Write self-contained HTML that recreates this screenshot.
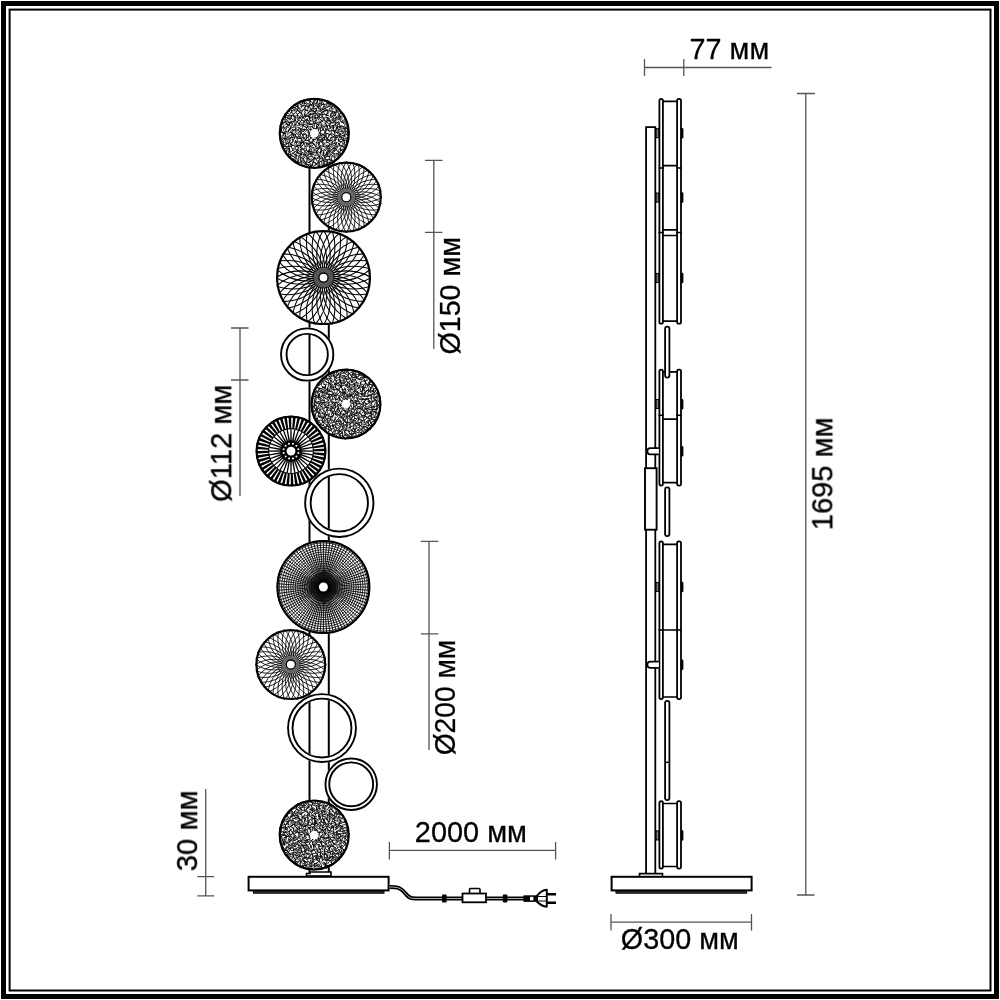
<!DOCTYPE html>
<html><head><meta charset="utf-8"><title>Floor lamp drawing</title>
<style>html,body{margin:0;padding:0;background:#fff;width:1000px;height:1000px;overflow:hidden}svg{display:block}text{font-family:"Liberation Sans",sans-serif}</style>
</head><body><svg width="1000" height="1000" viewBox="0 0 1000 1000"><defs><clipPath id="c1"><circle cx="314.3" cy="133.3" r="35.6"/></clipPath><clipPath id="c2"><circle cx="346.3" cy="197.2" r="35.6"/></clipPath><clipPath id="c3"><circle cx="323.5" cy="277.6" r="47.5"/></clipPath><clipPath id="c4"><circle cx="346" cy="404" r="35.5"/></clipPath><clipPath id="c5"><circle cx="291" cy="451.1" r="35.5"/></clipPath><clipPath id="c6"><circle cx="323.4" cy="587" r="47"/></clipPath><clipPath id="c7"><circle cx="290.8" cy="664.6" r="35.5"/></clipPath><clipPath id="c8"><circle cx="314.2" cy="835" r="35.6"/></clipPath><radialGradient id="rg"><stop offset="0.28" stop-color="#000"/><stop offset="0.7" stop-color="#111" stop-opacity="0.85"/><stop offset="1" stop-color="#000" stop-opacity="0"/></radialGradient></defs><rect width="1000" height="1000" fill="#fff"/><rect x="3.5" y="3.5" width="993" height="993" fill="none" stroke="#000" stroke-width="5"/><rect x="9.6" y="9.6" width="980.9" height="980.9" fill="none" stroke="#000" stroke-width="2"/><path d="M309.5 166V874M328.8 166V874" stroke="#000" stroke-width="2" fill="none"/><g clip-path="url(#c1)"><circle cx="314.3" cy="133.3" r="35.6" fill="#fff"/><path d="M276.87 135.69l4.11 1.46M277.82 124.29l4.09 2.52M277.87 125.1l3.47 2.66M278.48 128.08l2.45 3.51M280.94 130.28l-3.01 2.78M281.59 131.29l-4.34 2.05M278.53 135.12l3.29 1.07M280.5 135.53l0.09 4.19M278.53 137.86l3.27 1.96M279.04 141.24l3.42 0.16M280.55 140.5l-0.43 4.07M282.11 118.24l0.48 3.31M280.77 120.35l2.96 3.37M283.64 121.99l-2.99 0.99M282.7 124.43l-2.7 1.32M283.75 126.21l-2.86 3.75M281.68 126.51l-0.25 4.56M281.13 128.91l0.87 4M280.33 131.06l3.48 2.64M284.27 132.37l-2.09 4.36M283.7 137.07l-4.03 2.24M283.64 138.31l-2.24 2.38M282.23 140.46l1.86 2.48M283.05 143.13l-2.95 0.91M281.42 143.88l1.72 3.83M284.57 145.86l-3.89 2.62M282.67 147.48l0.07 3.24M284.59 114.71l1.16 3.14M284.3 116.18l1.5 3.54M285.53 118.96l-4.31 1.18M286.67 121.72l-3 0.71M286.44 122.05l-4.52 1.49M283.74 124.25l0.16 3.48M282.58 126.54l3.57 3.2M284.01 127.53l-0.38 3.28M285.78 130.91l-3.77 2.38M282.21 131.71l2.99 2.23M284.41 132.86l-0.88 2.92M285.47 134.63l-0.93 4M282.35 138.58l3.56 0.09M284.85 138.89l-2.26 3.41M283.9 141.83l-0.87 4.4M285.67 143.79l-3.01 2M281.97 146.39l4 0.12M284.24 148.11l-1.78 3.17M282.91 151.79l3.99 0.16M287.32 113.28l-3.19 0.66M284.54 113.86l3.1 2.89M284.77 116.7l3.83 1.94M287.97 118.4l-3.96 2.95M288.31 120.62l-3.37 1.11M285.85 122.25l2.1 2.32M285.08 124.12l4.2 0.74M287.96 125.23l-3.49 3.48M287.09 127.07l-1.57 3.47M287.42 130.96l-3.64 1.53M287.02 131.83l-2.71 1.88M285.68 132.62l-0.13 3.74M285.12 136.12l2.11 3.91M287.97 137.85l-4.1 1M285.34 138.8l0.7 4.89M287.7 140.85l-2.12 4.52M284.15 144.98l3.21 2.06M288.27 146.02l-3.86 2.93M284.48 148.48l4.86 0.69M287.3 148.99l-2.19 4.39M286.32 150.97l-0.19 4.36M285 153.21l2.34 3.56M286.46 109.56l3.7 2.43M285.78 112.93l3.54 0.99M285.69 114.87l3.75 1.38M288.64 115.13l0.77 4.01M286.89 117.3l2.9 2.77M286.46 120.19l3.65 2.76M288.81 122.25l-2.68 1.68M289.85 123.11l-2.24 3.07M285.67 126.14l3.49 1.45M290.91 128.6l-3.53 2.93M288.92 128.73l-0.7 3.4M288.13 131.52l-0.41 3.77M290.47 135.28l-2.9 1.63M286.67 135.86l2.1 3.32M289.03 139.88l-3.4 0.07M290.82 140.26l-3.04 3.56M289.42 142.33l-3.26 2.06M288.68 142.74l0.39 4.69M288.12 144.68l1.43 4.34M287.51 147.29l2.41 4.07M287.38 150.83l3.24 1.41M289.12 152.12l-1.42 3.51M289.49 154.93l-2.32 1.96M290.62 155.79l-3.42 2.74M291.08 106.36l-0.43 3.58M293.01 108.36l-4.31 1.44M290.35 108.57l1.36 3.77M291.04 112.01l-1.31 2.88M289.06 115.47l3.38 0.29M291.6 114.75l-1.1 4.24M287.89 117.92l3.56 2.42M292.62 121.61l-4.42 1.03M290.92 121.9l-2.25 4.26M289.17 123.46l1.2 4.01M291.33 125.27l-1.5 4.74M291.97 127.28l-2.52 2.65M289.82 130.43l2.6 3.16M291.9 132.14l-2.97 1.02M292.42 133.48l-3.54 2.92M292.6 135.43l-3.17 3.35M288.31 137.49l2.73 1.77M290.04 138.69l-0.93 3.48M289.62 142.05l1.94 3.63M292.74 144.32l-3.09 0.44M291.93 146.48l-4.06 0.04M288.95 148.1l1.36 3.36M289.54 148.35l-0.35 4.72M291.13 153.46l-3.48 1.28M290.61 153.39l-0.48 3.91M288.28 156.5l3.49 0.37M290.49 158.03l1.39 3.3M291.44 106.86l3.17 0.63M291.84 108.12l2.7 1.72M292.09 110l-0.25 3.3M291.71 112.47l2.3 1.98M292.83 114.79l-1.66 2.57M291.84 114.67l-0.87 3.7M290.75 117.78l2.51 2.27M294.42 120.68l-3.82 2.51M290.09 121.49l2.97 2.8M292.29 123.03l-0.4 3.36M293.74 127.34l-4.38 1.23M293.15 129l-2.17 2.42M293.41 130.31l-1.99 3.67M291.35 133.52l2.67 1.48M292.46 132.97l-0.78 3.95M294.09 137.63l-4.46 0.01M292.31 137.64l-0.01 3.22M293.23 140.54l-1.87 2.57M292.97 142.66l-3.29 0.73M291.44 145.36l3.3 0.39M290.7 145.37l1.68 3.3M291.44 147.52l1.82 3.05M293.39 149.65l-2.69 2.76M293.18 152.02l-1.68 2.97M290.37 154.81l3.86 2.09M289.35 156.99l4.36 2.36M293.77 159.51l-3.79 1.16M293.02 103.15l3.27 2.78M292.41 107.66l3.18 0.14M295.21 106.92l-0.23 4.96M295.39 109.89l-4.11 0.96M295.09 112.53l-2.09 2.45M293.85 113.73l-0.32 3.29M294.79 115.09l-0.94 4.57M294.56 118.52l0.35 3.44M295.91 120.43l-4.38 1.31M293.53 121.62l1.99 2.65M296.14 124.34l-2.74 1.79M292.65 125.33l3.06 2.8M295.19 129.4l-3.01 0.81M292.36 129.7l3.6 1.76M292.95 132.67l2.54 2.87M293.35 134.04l0.94 3.13M293.49 134.76l1.25 3.84M295.32 137.18l-2.41 2.94M292.54 140.12l2.21 2.27M296.12 140.4l-2.06 4.18M292.82 144.98l2.61 1.81M296.89 146.46l-3.77 2.4M295.98 148.3l-2.95 2.86M296.8 149.96l-3.2 3.52M295.24 150.96l-2.53 3.15M293.18 153.64l3.23 1.94M291.51 155.3l3.86 2.58M294.94 157.51l-3.15 2.67M293.17 160.66l4.1 2.1M295.8 161.84l-3.19 1.37M297.65 103.24l-2.97 2.03M294.94 104.51l2.72 2.63M298.76 105.69l-4.29 1.69M295.75 107.88l2.6 3.86M298.21 108.8l-2.58 4.17M295.28 112.53l3.38 2.74M298.11 115.21l-4 1.54M295.48 117.68l3.26 0.54M295.11 116.24l0.66 4.87M298.81 120.83l-3.41 1.56M296.83 122.15l-1.67 3.32M293.9 124.19l3.05 0.96M295.65 125.7l0.72 4.72M295.35 127.62l0.33 3.24M297.28 131.37l-2.78 1.43M297.8 132.43l-2.72 2.78M294.84 133.49l1.12 3.52M295.05 135.45l3.36 2.8M295.86 136.69l1.91 3.92M294.71 139.73l2.46 2.97M297.94 140.53l-1.98 4.14M295.91 144.36l2.47 3.3M294.9 145.68l3.06 1.47M295.51 149.19l2.86 1.05M297.37 149.6l-0.33 3.29M297.02 151.56l-2.35 3.97M296.58 154.05l-1.97 3.9M296.94 155.92l-1.68 2.83M297.06 157.77l-2.02 3.17M294.31 159.03l2.75 3.64M297.6 160.73l-0.83 3.31M297.1 100.89l2.92 2.1M300.55 101.33l-3.08 2.95M298.2 103.5l-0.66 4M297.38 105.15l1.16 3.78M298.36 107.13l-1.57 3.77M297.52 109.53l2.48 3.31M300.37 112.21l-3.14 2.32M297.35 114.02l0.5 3.94M300.9 116.6l-3.27 2.58M299.45 118.72l-2.05 2.97M297.05 119.38l3.53 2M296.77 121.64l2.39 2.06M300.99 124l-3.62 1.54M296.76 126.49l2.32 2.05M299.43 128.68l-2.36 2.27M297.23 129.09l2.89 2.78M299.87 130.42l-1.24 3.9M296.55 133.37l2.58 2.14M299.81 136.61l-3.22 0.46M300.35 138.23l-3.18 0.19M299.66 141.55l-4.69 0.83M300.43 141.84l-3.32 3.52M300.19 144.92l-3.81 0.82M298.87 145.44l-0.11 3.9M297.59 148.44l1.19 3.01M296.31 151.12l2.55 2.14M296.81 153.06l2.89 0.95M296.08 155.07l3.6 1.93M299.33 156.52l-1.44 2.63M298.71 158.48l-2.49 3.51M298.95 159.3l-1.31 3.88M299.53 161.92l-3.79 2.03M300.46 101.12l0.69 4.04M298.9 103.52l3.53 2.42M298.14 106.91l2.62 2.26M299.22 108.42l2.06 3.35M298.98 110.23l1.16 2.8M299.44 111.64l2.23 2.83M301.56 115.04l-2.69 1.77M302.06 116.74l-3.07 1.34M298.59 116.95l3.4 2.83M301.46 120.53l-2.68 3.02M300.02 122.29l-1.01 3.36M297.95 123.07l3.16 3.69M297.86 127.35l3.9 1.23M299.48 127.94l2.11 3.75M302.01 129.93l-3.78 2.44M300.95 131.61l-0.63 4.6M301.83 133.23l-3.56 2.3M298.41 136.77l4.14 0.23M302.09 138.52l-3.51 0M301.47 139.86l-1.16 3.25M302.83 142.46l-3.3 2.79M300.1 142.55l1.49 4.4M299.84 145.03l0.95 3.55M301.89 147.94l-2.56 3.86M301.35 150.31l-0.18 3.42M297.26 152.2l4.15 1.71M301.53 154.14l-3.15 2.11M300.98 154.86l-0.71 4.87M300.53 158.38l0.59 3.26M301.61 161.8l-4.07 0.91M300.7 160.16l0.96 4.63M304.11 98.63l-1.99 4.5M302.97 100.42l-0.53 3.81M303.77 106l-3.18 0.47M301.97 104.88l-0.89 3.61M305.08 108.4l-4.07 2.57M304.15 108.89l-2.51 3.47M301.31 111.98l0.82 3.04M301.9 113.34l0.55 4.26M302.8 115.66l0.98 2.99M302.47 118.02l-1.9 3.69M301.26 119.91l3.53 1.76M301.45 122.4l0.86 2.88M300.69 124.66l2.98 1.07M302.99 125.14l-0.58 3.42M299.85 129.08l4.85 0.48M304.18 130.92l-3.61 1.18M300.95 132.41l2.75 3.4M301.55 133.43l2.14 3.69M304.27 137.55l-4.87 0.57M300.03 137.86l2.97 3.7M301.99 140.28l-0.95 3.36M303.67 142.09l-3.85 1.34M303.72 143.1l-1.48 2.93M300.28 145.06l2.56 4.2M299.82 149.54l3.71 0.28M300.31 151.29l3.46 1.9M300.9 152.66l0.94 2.87M304.06 154.01l-4.61 0.63M304.11 156.42l-3.25 1.28M300.52 157.6l2.84 1.45M301.49 160.51l2.37 1.88M300.54 162.21l2.19 2.2M299.14 164.9l4.8 1.29M301.89 100.14l3.61 0.29M304.95 100.3l-0.72 3.5M303.32 100.18l1.03 4.49M302.27 105.21l3.89 0.66M306.49 105.59l-2.7 2.5M305.26 106.47l-0.3 4.31M305.94 109.78l-1.84 2.71M305.54 111.75l-1.61 4.62M304.31 113.41l1.42 4.38M305.28 116.69l-3.56 1.19M303.61 117.66l2.55 3.71M304.35 120.05l-1.44 3.41M304.82 120.99l-1.69 4.1M302.64 124.31l2.07 2.84M303.35 125.98l3.61 1.69M305.09 128.9l-3.53 1.52M306.35 128.88l-3.41 3.04M304.66 132.65l-2.33 2.18M305.34 133.81l-2.63 1.49M305.84 136.56l-3.46 3.21M302.82 137.53l3.26 2.79M304.02 139.88l0.07 4.48M302.73 141l1.85 3.5M303.72 144.16l1.92 2.41M306.99 147.83l-3.57 0.61M302.83 148.2l3.2 3.09M303.36 149.3l2.25 3.5M304.81 152.27l-1 2.85M303.31 155.33l2.97 1.02M305.35 156.42l-2.49 3M303.17 157.75l1.43 3.96M302.13 159.68l3.53 2.55M302.26 162.78l3.4 0.03M305.28 165.09l-2.69 2.05M303.18 164.74l2.58 3.55M308.06 97.96l-3.42 2.02M304.61 99.35l1.74 3.15M306.99 102.7l-3.29 1.35M304.83 103.12l3.87 2.94M304.97 105.43l3.47 2.21M305.12 109.12l3.11 1.8M304.95 109.71l2.69 1.52M308.05 113.29l-2.98 1.87M308.72 115.19l-4.89 0.79M305.41 116.34l3.76 0.19M307.69 118.48l-3.04 2.25M307.49 119.07l-1.21 3.3M305.29 122.74l3.96 0.55M303.69 124.19l3.61 1.41M304.47 126.3l2.85 2.83M303.54 129.38l4.85 0.54M307.93 129.7l-2.7 1.94M304.25 132.82l3.2 2.69M303.77 134.26l3.15 1.27M306.73 134.4l-0.22 4.57M304.76 138.05l2.62 3M309.41 140.37l-5 0.07M304.93 142.42l4.3 1.03M306.15 143.65l1.41 3.06M307.36 145.96l-3.27 1.04M306.08 148.39l1.43 3.48M306.94 149.91l-2.59 1.77M307.2 151.61l-2.3 3.76M303.51 153.86l3.77 2.67M307.01 155.66l0.05 3.52M305.53 158.42l3.06 2.13M307.49 159.52l-2.25 4.17M306.67 163.05l-2.16 2.35M304.13 163.77l4.5 1.33M304.91 166.67l3.88 1.41M309.47 96.82l-1.26 4.39M306.31 100.18l4.83 1.22M306.89 103.34l4.28 1.13M309.07 104.18l-0.57 3.5M307.32 105.77l1.81 2.5M308.67 106.91l-1.21 2.79M311 110.88l-3.78 2.36M308.75 111.76l0.3 3.51M309.43 114.18l-0.99 3.04M308.69 116.75l1.06 2.81M306.35 119.2l2.99 1.65M305.43 119.69l4.37 2.23M306.48 123.09l4.13 2M306.66 123.65l1.54 4.1M309.07 125.87l-2.85 1.44M307.35 127.43l2.68 2.19M308.95 129.63l-1.45 3.46M308.59 130.93l0.43 3.47M308.91 133.55l-1.05 4.24M309.27 136.42l-3.19 2.06M308.67 137.94l0.67 4.16M307.52 140.25l3.01 2.63M305.74 143.74l4.34 0.15M306.98 143.76l3.28 1.59M308.74 145.06l0.82 3.23M310.1 148.14l-2.06 3.55M308.37 149.94l-0.07 4.23M311.37 153.82l-4.68 0.37M305.81 154.52l3.4 1.73M307.18 157.07l2.39 2.01M306.25 157.62l3.55 2.43M305.74 161.98l4.04 0.4M305.56 162.47l3.49 3.53M307.37 164.56l3.83 0.49M306.27 165.27l2.71 3.42M310.91 97.95l-0.95 4.66M309.63 99.49l0.48 3.4M309.65 102.67l1.62 2.89M313.05 103.74l-4.2 2.21M308.8 105.76l2.51 4.03M311.65 108.86l-3.16 1.91M311.67 110.09l-3.14 2.14M310.84 112.64l-1.02 2.99M310.92 113.84l-1.73 3.4M308.63 117.12l2.69 1.47M310.52 116.68l-1.45 4.03M310.81 119.82l-1.65 3.66M307.56 122.68l4.18 1.99M311.99 124.14l-3.27 0.5M313.09 126.5l-4.41 0.51M310.63 127.38l0.85 4.8M311.19 129.34l-1.63 4.12M309.52 131.81l0.54 3.85M308.87 134.1l2.14 2.11M309.02 135.37l2.37 3.26M311.38 137.3l-2.77 3.54M312.6 141.2l-2.85 1.7M312.24 143.63l-3.62 0.3M311.6 144.76l-2.02 2.71M309 145.61l2.77 2.54M310.88 148.4l-2.43 3.68M307.33 151.35l4.82 0.54M310.38 151.28l-1.36 3.46M310.24 152.61l1.18 4.05M312.49 156.08l-4.48 1.32M307.89 158.13l3.31 2.21M312.37 160.3l-3.52 1.63M307.93 162.35l3.2 1.07M313.33 164.9l-4.27 1.99M309.86 164.52l1.74 4.12M310.63 98.26l4.12 1.54M314.1 99.81l-1.76 4.12M311.39 101.63l2.39 2.87M309.86 105.3l3.87 0.95M311.58 107.75l3.24 0.73M312.42 108.1l-0.86 3.74M311.02 109.22l3.65 2.65M314.89 113.64l-4.14 0.33M314.05 114.25l-4.1 0.27M313.02 114.93l-1.28 3.2M311.81 116.37l1.02 4.18M310.4 120.62l4.01 0.86M313.74 123.86l-4.12 0.45M313.55 122.23l-1.02 4.17M311.56 126.29l2.71 3.17M309.89 129.69l4.2 0.51M309.52 129.59l4.09 1.6M311.23 131.27l3.82 2.93M310.66 133.91l3.71 2.46M314.24 135.12l-3.5 3.48M314.06 138.67l-1.76 2.77M313.46 138.62l-0.93 4.82M309.32 141.73l4.68 1.67M314.43 143.8l-2.46 2M310.26 145.33l2.65 3.03M312.09 148.55l-1.37 3.03M312.15 150.4l-0.54 3.25M313.51 152.12l-2.89 1.69M313.22 154.15l-3.06 0.68M311.92 155.49l1.71 3.47M310.58 158.68l3.4 1.23M313.18 161.13l-3.59 0.15M313.11 161.88l-1.02 4.56M312.42 163.65l-2.15 3.42M310.5 165.66l2.17 2.33M313.4 97.35l2.4 3.53M314.78 99.21l-0.15 4.31M316.53 103.31l-2.96 1.04M313.26 102.28l0.19 4.82M313.02 104.2l0.66 4.61M315.08 107.74l-2.31 3.76M316.57 111.11l-4.36 0.74M316.36 112.87l-3.65 0.2M315.96 113.05l-2.15 4.26M311.92 116.47l4.22 1.31M315.98 117.09l-3.24 2.54M317.1 119.97l-4.33 2M313.49 123.02l3.12 0.62M314.61 122.71l-0.4 4.82M312.23 127.45l3.76 1.54M316.86 127.62l-3.28 2.39M313.21 129.08l1.18 4.49M314.22 131.75l-0.89 3.6M315.24 133.31l-2.17 3.04M313.69 135.32l1.53 2.87M312.54 139.24l3.57 0.48M312.41 139.55l2.45 2.44M312.17 142.67l3.02 2.43M314.2 144.16l1.34 2.78M312.1 146.88l2.98 1.54M312.89 148.46l3.22 3.13M313.94 150.03l0.15 3.03M316.16 152.6l-3.43 0.38M312.02 153.36l3.83 2.88M314.45 156.54l-0.97 2.88M315.08 157.32l-1.72 4.48M312.68 160.76l3.59 2.71M312.39 162.47l3.47 0.5M316.61 163.62l-3.57 3.06M311.94 167.17l2.98 1.49M318.79 97.91l-3.95 2.22M317.99 99.08l-1.45 3.56M317.8 101.36l-2.23 3.85M317.71 104.46l-4.04 2.27M318.01 105.04l-1.52 4.03M315.3 107.92l1.67 3.24M316.59 108.37l-1.65 4.34M314.48 112.91l2.92 1.28M318.18 113.81l-3.59 2.08M318.52 116.64l-4.22 2.51M315.55 116.37l0.69 4.06M316.81 119.68l-1.92 3.4M315.41 121.65l2.28 3.05M316.88 124.15l-0.31 4.04M316.57 125.07l0.32 4.16M317.67 126.89l-2.82 3.86M316.68 130.34l0.03 3.28M316.77 131.1l-1.01 3.66M317.22 135.71l-3.44 0.85M315.36 136.83l2.82 1.83M317.73 137.6l-3.18 2.45M317.88 138.65l-1.33 4M318.81 142.79l-3.33 0.21M316.42 143.77l-1.15 4.07M316.7 145.44l0.52 3.62M318.32 147.35l-4.16 2.61M316.21 149.43l0.82 4.09M316.73 151.27l0.14 3.14M319.25 154.74l-4.29 0.34M313.7 158.06l4.24 0.35M313.8 157.03l3.12 2.88M315.64 159.31l2.22 2.37M317.18 162.89l-1.65 2.65M315.19 163.9l4.17 1.97M318.44 166.58l-3.98 1.93M314.18 168.1l2.7 1.45M320.18 98.87l-3.19 1.37M317.6 99.28l-0.59 4.73M319.44 102.64l-1.21 2.86M316.09 105.98l4.71 0.32M318.38 106.21l0.21 3.06M317.38 107.05l3.33 2.52M316.08 110.68l3.73 0.53M316.97 112.39l3.85 2.07M319.23 113.45l0.09 4.52M317.49 115.09l0.81 3.38M317 117.32l2.12 3.22M321.07 122.07l-4.33 0.28M315.33 122.73l4.02 2.8M318.97 122.99l-0.49 3.08M317.54 125.84l0.69 3.66M319.02 126.99l-0.69 4.09M318.53 130.35l1.18 3.67M317.2 132.14l2.33 3.54M317.95 133.47l1.99 4.45M318.42 135.8l-2.2 2.53M318.25 136.18l-0.67 4.94M318.49 139.54l0.87 2.97M316.42 142.5l3.44 0.72M318.72 142.69l0.32 3.86M319.61 146.06l-1.28 3.81M318.4 146.84l-0.94 4.04M317.59 151.15l2.71 2.09M316.95 151.25l1.23 3.06M317.15 154.79l2.77 2.55M319.69 155.7l-2.86 2.19M320.38 158.49l-2.81 2.72M319.56 160.55l-2.52 2.72M319.05 162.31l-2.89 1.55M319.62 162.84l-1.16 4.04M319.96 165.49l-2.42 1.82M318.18 98.07l2.31 2M318.92 98.28l1.37 4.19M318.27 103.76l3.93 0.14M319.99 102.15l-0.05 4.32M319.14 105.03l1.43 3.78M321.46 107.82l-1.9 3.5M319.57 109.54l2.03 3.57M321.5 112.74l-1.18 2.79M321.49 114.41l-4.19 1.05M318.56 116.15l3.06 2.12M318.26 117.48l3.43 3.52M322.17 120.67l-3.02 3.03M319.62 121.11l2.1 3.68M319.52 123.93l2.23 2.68M321.71 125.85l-1.9 3.79M319.77 126.57l0.74 4.18M320.49 129.63l0.12 4.09M318.88 132.46l2.86 2.65M320.09 133.28l1.31 4.13M320.3 136.66l-1.97 2.36M318.14 139.24l4.83 0.38M318.87 140.88l4.52 0.05M320.64 140.81l-2.22 4.34M318.21 144.38l4.27 2.3M320.66 145.51l-1.93 3.94M319.62 146.97l1.22 2.9M320.89 149.79l-0.18 3.9M321.06 150.99l-0.75 3M320.39 154.31l-1.46 3.4M319.81 155.88l0.15 3.64M317.8 157.74l4.59 1.19M318.49 160.75l3.83 1.19M320.65 161.12l-2.49 3.12M318.48 164.6l3.76 2.97M319.15 166.41l3.93 0.49M323.52 96.75l-2.3 4.15M324.23 99.91l-4.02 1.13M321.95 100.78l-0.45 4.89M323.59 103.5l-2.47 2.27M323.44 105.94l-0.92 3.53M323.49 108.64l-2.82 1.87M321.01 109.66l2.03 3.16M321.6 112.13l1.26 3.24M321.69 114.13l0.92 4.31M322.09 115.05l-0.17 3.08M323.57 118.5l-1.48 3.27M320.27 118.95l3.03 3.26M320.01 121.71l2.66 2.49M321.7 124.66l2.34 2.22M321.32 125.09l0.35 3.33M322.53 126.9l0.65 3.93M323.34 129.44l-2.95 1.84M320.96 133.51l3.24 1.24M320.23 135.57l4.73 0.43M320.32 137.74l4.91 0.3M324.58 137.03l-3.78 2.68M323.16 139.1l-1.91 3.5M320.33 140.56l3.33 3.71M322.31 144.24l1.38 2.71M320.2 147l2.39 1.98M321.59 147.89l-0.43 4.46M323.51 150.01l-3.89 2.69M323.15 152.2l-0.06 3.97M321.43 154.52l2.53 1.63M320.34 155.77l3 2.56M321.45 156.88l2.24 3.03M321.92 158.69l2.23 3.42M321.49 161.42l0.87 4.23M320.43 164.71l4.52 1.41M324.61 164.66l-3.31 3.61M327.13 100.02l-4.47 0.77M322.09 101.39l2.98 3.89M323 103.71l2.56 4.06M323.57 105.55l1.03 3.37M321.65 109.03l3.39 1.32M326.05 111l-3.63 0.75M322.81 110.69l2.09 3.99M321.75 114.26l4.16 0.24M322.79 116.53l1.45 3.32M323.12 117.61l2.12 3.48M323.45 120.44l3.19 1.26M326.92 122.6l-3.27 1.91M326.99 125.97l-4.39 0.35M325.01 125.63l-1.69 3.43M322.54 129.12l3.09 2.28M326.27 130.61l-2.52 3.25M324.88 130.85l0.46 3.92M322.05 134.13l3.31 1.25M324.86 134.8l-0.58 4.11M323.36 139.29l3.06 1.05M325.11 139.4l-3.48 2.51M323.15 141.57l2.38 3.79M322.16 142.56l2.41 3.84M322.04 146.07l3.21 0.84M323.95 149.16l2.42 2.04M324.14 149.12l-0.77 4.48M323.92 151.42l0.08 3.92M323.55 154.61l2.38 3.36M323.8 155.53l1.57 4.07M325.55 159.48l-4.36 1.53M326.08 160.96l-3.06 0.07M324.18 161.55l0.42 3.9M323.45 162.46l0.34 3.79M328.88 100.96l-4.12 0.22M328.38 103.07l-3.86 1.52M327.58 103.29l-1.95 4.2M327.63 107.08l-4.33 2.35M324.87 108.65l3.25 2.98M323.52 110.19l3.59 0.47M327.56 111.97l-1.77 4.02M328.37 114.89l-3.13 1.55M327.75 117.86l-4.01 0.09M328.24 117.27l-2.42 4M327.61 119.71l-0.79 2.93M324.7 121.81l2.08 3.44M325.5 124.46l2.01 2.24M327.37 125.61l-0.59 4.7M325.72 127.65l-0.5 3.06M326.47 129.19l-1.54 4M324.78 133.01l3.86 0.68M326.48 133.71l-1.43 4.23M325.91 134.95l1.22 4.08M327.26 138.33l-0.43 3.02M328.01 139.57l-2.34 3.16M328.51 142.06l-2.83 1.06M327.33 144.6l-2.32 3.06M327.03 145.2l-0.13 4.25M324.58 148.98l4.81 0.1M327.64 149.94l-1.55 3.87M326.83 152.21l-1.75 4.11M326.71 153.25l-0.87 2.94M327.81 155.94l-4.12 2.53M325.04 158.56l3.14 1.94M327.23 161.03l-3.76 0.31M326.7 161.26l0.96 3.86M324.79 163.92l4.14 1.63M330.44 100.75l-4.49 1.89M328.37 102.46l0.79 3.49M330.64 106.04l-3.43 0.08M330.34 105.99l-3.23 1.51M326.2 108.96l2.51 2.66M327.16 109.36l0.89 3.11M329.23 112.52l-3.26 2.07M325.49 114.49l4.15 1.66M326.89 117.08l2.84 1.67M326.57 116.97l3.37 3.58M327.65 119.2l2.61 3.54M326.41 121.67l2.48 2.61M330.2 124.88l-4.53 1.29M326.5 125.35l1.64 3.93M326.21 129.57l3.31 1.2M327.84 129.08l1.72 3.26M326.44 133.3l4.06 1.44M330.15 134.64l-2.73 3.2M329.17 136.54l-3.34 3.36M326.17 137.94l2.44 3.08M327.98 138.62l2.02 3.71M327.27 142.29l2.75 1.24M329.72 143.94l-3 3.92M327.38 145.6l2.98 2.45M326.61 147.59l4.18 1.47M328.8 149.91l-1.01 4.75M327.46 151.66l0.04 3.56M326.06 154.71l4.13 2.79M326.61 156.26l3.25 0.58M330.33 159.35l-4.09 0.56M327.75 159.74l-0.59 3.28M330.43 162.34l-4.58 1.22M327.48 102.97l3.76 1.99M332.97 103.94l-3.53 0.97M331.06 105.35l0.19 3.71M329.45 108.08l0.8 3.91M327.78 109.94l4.54 1.48M331.75 112.34l-1.1 3.21M330.82 113.13l-0.33 3.72M333.09 115.68l-3.73 2.56M327.84 118.36l3.28 3.62M331.84 119.92l-4.39 1.19M332.98 122.86l-4.22 0.53M330.88 122.75l-1.61 4.19M329.08 124.46l1.5 3.97M330.87 128.15l-2.88 1.12M329.37 129.96l2.38 2.39M332.42 131.38l-2.54 2.47M332.12 134.02l-4.12 1.3M332.18 136.19l-2.1 2.53M331.02 137.48l-1.55 3.05M328.12 140.37l3.13 0.55M332.7 141.41l-2.93 3.57M331.47 144.16l-3.7 3.11M328.16 145.25l4.08 2.33M328.89 147.75l1.05 4.27M332.49 150.78l-4.65 0.44M330.32 151.39l-1.67 2.83M330.04 153.66l1.18 3.02M329.04 154.52l0.72 4.41M328.64 158.88l3.63 2.74M330.51 160.98l-2.17 2.44M328.95 162.54l3.55 0.93M331.4 102.09l2.59 3.6M330.92 104l3.32 1.51M333.36 105.14l-3.24 3.35M331.74 106.77l0.58 3.58M331.6 110.59l1.3 3.14M334.9 111.9l-3.51 2.08M334.17 113.3l-2.05 3.93M331.59 115.31l2.61 3.06M331.44 117.24l2.68 3.14M331.84 118.88l1.96 4.03M330 121.62l4.2 1.59M334.37 125.12l-4.36 1.37M334.22 126.25l-4.61 1.55M332.88 127.09l-1.48 3.45M330.65 130.26l4.91 0.68M331.32 133.11l2.95 1.99M330.95 134.89l3.59 2.32M334.82 136.89l-4.09 1.34M333.02 139.55l-2.95 0.98M330.58 139.4l2.16 2.79M332.56 141.79l-0.98 3.82M331.1 144.08l3.26 1.6M331.59 145.93l2.62 2.35M333.69 148.49l-3.26 1.66M334.53 148.79l-2.84 4.1M330.56 152.16l3.71 2.25M330.47 153.56l2.64 2.51M332.37 155.25l-1.28 4.75M329.2 159.77l4.56 0.81M331.59 159.38l1.38 4.59M331.34 161.68l1.66 3.05M335.76 103.62l-3.67 0.92M332.31 105.11l3.1 0.95M331.66 106.26l3.8 1.21M335.12 106.87l-2.25 2.95M331.93 110.92l4.12 1.39M334.23 111.86l0.95 3.19M335.58 114.78l-2.58 1.58M337.01 117.28l-4.05 1.82M335.85 117.52l-1.29 3.32M332.67 119.81l2.68 3.13M335.12 120.53l0.09 4.3M335.3 125.04l-3.27 0.72M332.64 125.49l2.39 3.02M333.27 126.63l0.62 4.92M333.09 131.1l3.44 0.08M334.71 130.64l-0.44 4.67M333.66 134.14l2.59 3.41M335.13 135.16l-2.79 2.78M335.97 136.68l-2.11 3.78M336.55 139.62l-4.1 1.91M336.44 142.6l-3.45 1.09M333.88 142.89l2.77 3.5M333.78 146.83l1.62 2.54M336.68 148.04l-4.4 0.61M334.93 148.75l-1.48 3.86M331.75 152.67l4.01 1.45M334.34 154.24l-0.3 3.09M332.69 155.68l2.79 1.68M334.71 157.02l-0.01 4.54M334.56 160.62l-0.18 3.16M338.74 105.37l-4.72 0.05M336.68 105.7l-1 4.62M334.95 108.45l3.34 3.31M336.44 109.55l0.18 3.37M335.71 111.71l-0.28 3.43M336.35 113.67l-1.5 3.11M336.4 116.06l1.55 3.58M336.31 116.99l-0.3 3.17M337.3 119.45l-3.45 2.31M338.82 121.52l-3.71 2.73M335.97 122.55l-0.82 4.16M336.59 125.19l0.71 4.06M336.43 127.25l0.25 3.25M336.11 128.86l-1.47 4.11M338.61 131.64l-3.69 1.6M334.95 135.25l3.21 0.45M337.93 137.37l-3.4 0.25M337.22 137.2l-2.16 2.53M336.09 138.54l-1.52 4.21M336.71 142.02l-1.46 3.07M336.18 142.82l1.38 4.22M333.48 145.65l4.13 1.36M334.87 146.85l1.52 3.38M337.38 148.72l-3.63 3.26M335.82 153.15l2.91 0.75M336.39 153.56l-0.57 3.74M338.59 156.98l-2.59 1.69M338.51 157.73l-3.43 2.04M336.26 105.96l3.44 2M339.54 108.44l-4 2.82M339.61 110.57l-2.61 1.55M337.67 111.88l2.12 3.54M339.28 113.1l-0.8 4.74M336.97 115.53l3.61 2.07M340 117.33l-1.8 3.03M339.36 122.13l-3.65 0.06M337.2 122.39l2.07 2.31M337.37 124.15l0.08 3.71M340.4 126.18l-3.99 1.4M336.42 127.08l3.16 3.38M338.91 128.52l-1.89 4.45M336.88 133.6l4.1 0.96M340.55 135.14l-4.17 1.55M338.89 134.56l0.61 3.77M338.21 137.99l0.53 4.25M337.86 139.46l2.17 2.46M337.76 142.62l2.42 2.73M338.42 143.09l1.74 3.65M339.7 144.89l-3.28 3.53M340.37 148.57l-2.71 2.16M336.38 150.37l3.17 2.65M338.77 150.98l0.02 4.05M337.4 153.88l1.37 2.73M338.08 155.39l-0.41 3.37M339.43 159.28l-4.23 0.99M341.38 108.76l-3.65 0.08M340.2 109.99l0.27 3.49M339.86 111.06l1.23 3.5M339.04 114.32l2.14 3.38M339.85 115.12l0.2 3.97M338.08 117.37l2.9 3.91M340.06 119.3l1.81 3.55M340.07 121.58l-1.03 3.18M338.34 123.48l2.39 3.54M338.21 126.76l3.29 0.23M341.13 128.63l-3.2 1.91M341.46 131.28l-3.93 1.56M339.01 133.05l2.87 1.32M340.23 133.38l-0.27 3.94M338.73 136.93l3.78 0.67M342.31 137.58l-2.18 2.26M338.91 139.54l2.02 2.81M341.57 141.71l-3.49 2.89M338.68 143.66l2.33 2.01M341.75 144.84l-1.44 3.81M340.73 147.77l-0.23 3.49M341.51 149.91l-3.26 3.33M339.11 152.16l3.8 2.83M339.16 153.57l2.24 3.98M338.7 155.21l3.18 2.65M340.36 112.01l2.29 2.51M343.83 113.47l-2.47 2.89M342.81 115.59l-2.78 2.82M342.72 117.6l-2.18 2.46M342.6 119.73l0.45 3.15M341.55 121.46l3.08 3.07M340.45 125.67l2.97 0.93M339.1 127.49l4.61 0.86M341.22 128.63l2.68 2.98M340.4 129.93l3.98 2.8M341.66 130.68l0.85 3.39M344.94 134.95l-4.53 1.46M340.91 136.66l3.6 2.57M339.84 139.08l3.5 0.48M344.08 140.21l-3.2 1.46M341.62 141.18l1.62 3.23M343.7 142.81l-1.56 3.9M341.41 146.11l3.6 0.99M344.19 149.02l-3.04 0.5M343.31 150.14l-2.99 0.67M339.97 152.89l4.06 2.24M341.95 152.62l-0.55 3.78M343.24 113.85l3.03 3.63M343.42 115.21l2.74 3.17M346.08 116.78l-1.85 3.62M343.28 119.66l2.68 3.03M342.01 121.52l3.57 1.98M345.52 124.33l-2.2 3.32M341.29 125.84l4.18 1.71M342.83 128.37l4.76 0.47M344.18 129.03l1.31 4.27M343.26 131.88l1.88 4.59M342.09 135.66l3.93 0.5M344.67 134.41l-1.22 4.28M346.99 137.53l-4.23 2.47M342.47 139.79l2.51 3.38M344.69 140.57l-0.12 4.12M346.26 144.17l-2.94 2.08M342.76 147.63l3.57 0.36M344.16 147.87l1.71 2.9M346.59 149.17l-4.19 2.32M345.96 151.25l-3.65 2.47M345.2 116.97l1.6 3.27M345.22 121.34l4.14 1.57M348.06 121.9l-2.33 2.08M345.51 123.08l3.53 2.44M346.94 126.53l-3.14 2.2M346.18 127.64l-0.66 3.6M344.81 130.69l3.84 2.59M344.87 132.5l3.15 2.96M345.17 134.19l4.11 1.37M348.39 137.64l-3.26 0.88M347.59 139.68l-4.31 1.14M347.78 138.76l-1.47 3.46M346.18 141.65l1.25 2.82M347.71 143.86l-3.03 3.18M348.72 123.96l-2.82 2.35M345.21 127.36l4.23 1.75M347.97 127.64l-0.22 3.97M347.8 129l-0.62 3.15M346.75 131.32l3.01 2.74M347.64 132.95l0.37 2.98M348.99 136.22l0.22 3.48M347.76 137.13l-0.66 3.63M345.89 140.14l3.71 1.49M348.51 142.14l-2.38 3.47M350.84 130.31l-2.97 2.47" stroke="#000" stroke-width="0.85" fill="none"/><circle cx="314.3" cy="133.3" r="4.3" fill="#fff"/></g><circle cx="314.3" cy="133.3" r="34.5" fill="none" stroke="#000" stroke-width="2.2"/><g clip-path="url(#c2)"><circle cx="346.3" cy="197.2" r="35.6" fill="#fff"/><g stroke="#000" stroke-width="0.85" fill="none"><circle cx="380.3" cy="197.2" r="34.83"/><circle cx="379.78" cy="203.1" r="34.83"/><circle cx="378.25" cy="208.83" r="34.83"/><circle cx="375.74" cy="214.2" r="34.83"/><circle cx="372.35" cy="219.05" r="34.83"/><circle cx="368.15" cy="223.25" r="34.83"/><circle cx="363.3" cy="226.64" r="34.83"/><circle cx="357.93" cy="229.15" r="34.83"/><circle cx="352.2" cy="230.68" r="34.83"/><circle cx="346.3" cy="231.2" r="34.83"/><circle cx="340.4" cy="230.68" r="34.83"/><circle cx="334.67" cy="229.15" r="34.83"/><circle cx="329.3" cy="226.64" r="34.83"/><circle cx="324.45" cy="223.25" r="34.83"/><circle cx="320.25" cy="219.05" r="34.83"/><circle cx="316.86" cy="214.2" r="34.83"/><circle cx="314.35" cy="208.83" r="34.83"/><circle cx="312.82" cy="203.1" r="34.83"/><circle cx="312.3" cy="197.2" r="34.83"/><circle cx="312.82" cy="191.3" r="34.83"/><circle cx="314.35" cy="185.57" r="34.83"/><circle cx="316.86" cy="180.2" r="34.83"/><circle cx="320.25" cy="175.35" r="34.83"/><circle cx="324.45" cy="171.15" r="34.83"/><circle cx="329.3" cy="167.76" r="34.83"/><circle cx="334.67" cy="165.25" r="34.83"/><circle cx="340.4" cy="163.72" r="34.83"/><circle cx="346.3" cy="163.2" r="34.83"/><circle cx="352.2" cy="163.72" r="34.83"/><circle cx="357.93" cy="165.25" r="34.83"/><circle cx="363.3" cy="167.76" r="34.83"/><circle cx="368.15" cy="171.15" r="34.83"/><circle cx="372.35" cy="175.35" r="34.83"/><circle cx="375.74" cy="180.2" r="34.83"/><circle cx="378.25" cy="185.57" r="34.83"/><circle cx="379.78" cy="191.3" r="34.83"/></g><circle cx="346.3" cy="197.2" r="7" fill="none" stroke="#666" stroke-width="4"/><circle cx="346.3" cy="197.2" r="4.5" fill="#fff" stroke="#000" stroke-width="1.1"/></g><circle cx="346.3" cy="197.2" r="34.5" fill="none" stroke="#000" stroke-width="2.2"/><g clip-path="url(#c3)"><circle cx="323.5" cy="277.6" r="47.5" fill="#fff"/><g stroke="#000" stroke-width="1.05" fill="none"><circle cx="370" cy="277.6" r="47"/><circle cx="369.29" cy="285.67" r="47"/><circle cx="367.2" cy="293.5" r="47"/><circle cx="363.77" cy="300.85" r="47"/><circle cx="359.12" cy="307.49" r="47"/><circle cx="353.39" cy="313.22" r="47"/><circle cx="346.75" cy="317.87" r="47"/><circle cx="339.4" cy="321.3" r="47"/><circle cx="331.57" cy="323.39" r="47"/><circle cx="323.5" cy="324.1" r="47"/><circle cx="315.43" cy="323.39" r="47"/><circle cx="307.6" cy="321.3" r="47"/><circle cx="300.25" cy="317.87" r="47"/><circle cx="293.61" cy="313.22" r="47"/><circle cx="287.88" cy="307.49" r="47"/><circle cx="283.23" cy="300.85" r="47"/><circle cx="279.8" cy="293.5" r="47"/><circle cx="277.71" cy="285.67" r="47"/><circle cx="277" cy="277.6" r="47"/><circle cx="277.71" cy="269.53" r="47"/><circle cx="279.8" cy="261.7" r="47"/><circle cx="283.23" cy="254.35" r="47"/><circle cx="287.88" cy="247.71" r="47"/><circle cx="293.61" cy="241.98" r="47"/><circle cx="300.25" cy="237.33" r="47"/><circle cx="307.6" cy="233.9" r="47"/><circle cx="315.43" cy="231.81" r="47"/><circle cx="323.5" cy="231.1" r="47"/><circle cx="331.57" cy="231.81" r="47"/><circle cx="339.4" cy="233.9" r="47"/><circle cx="346.75" cy="237.33" r="47"/><circle cx="353.39" cy="241.98" r="47"/><circle cx="359.12" cy="247.71" r="47"/><circle cx="363.77" cy="254.35" r="47"/><circle cx="367.2" cy="261.7" r="47"/><circle cx="369.29" cy="269.53" r="47"/></g><circle cx="323.5" cy="277.6" r="7.5" fill="none" stroke="#555" stroke-width="5"/><circle cx="323.5" cy="277.6" r="4.5" fill="#fff" stroke="#000" stroke-width="1.1"/></g><circle cx="323.5" cy="277.6" r="46.4" fill="none" stroke="#000" stroke-width="2.2"/><circle cx="307.2" cy="354.5" r="23.4" fill="none" stroke="#fff" stroke-width="7.4"/><circle cx="307.2" cy="354.5" r="26.15" fill="none" stroke="#000" stroke-width="1.9"/><circle cx="307.2" cy="354.5" r="20.65" fill="none" stroke="#000" stroke-width="1.9"/><g clip-path="url(#c4)"><circle cx="346" cy="404" r="35.5" fill="#fff"/><path d="M311 401.56l-0.76 3.23M310.82 406.24l0 3.92M311.09 392.5l2.67 2.05M309.27 395.95l4.25 2.59M313.61 398.93l-3.58 0.41M313.11 400.01l-1.92 3.74M312.39 401.77l-1.83 2.8M310.99 405.35l3.08 3.28M310.35 406.32l2.83 3.21M312.28 409.51l-1.88 2.76M309.97 409.46l3.08 3.34M311.5 411.54l1.13 3.38M314.41 386.38l0.87 3.29M315.77 389.06l-3.76 0.84M313.5 390.55l2.74 3.39M312.63 393.12l3.4 3.16M316.75 395.52l-4.08 1.68M314.82 396.35l-3.28 1.49M315.02 397.65l-0.76 4.69M315.23 400.9l-1.37 3.93M313.49 402.33l1.7 3.96M313.67 405.19l0.52 3.26M313.09 405.61l2.53 4.04M316.74 410.05l-3.65 0.59M315.72 411.04l-4.04 1.43M312.61 413.78l3.79 2.43M311.53 414.43l3.72 2.54M312.26 416.97l2.92 1.18M317.94 382.91l-2.12 4.06M315.7 384.09l1.2 4.17M317.11 387.51l-3.02 2.51M315.11 388.71l2.72 3.05M313.95 390.73l4.09 1.73M314.16 392.6l2.93 3.79M317.01 394.56l-0.49 3.95M315.24 395.33l0.56 4.04M316.43 399.1l-1.44 3.24M314.77 400.76l3.76 3.26M316.62 402.77l-2.17 3.91M314 405.21l3 0.37M316.82 406.13l-1.55 4.22M316.68 407.65l0.1 4.44M318.89 411.41l-4.39 2M316.76 412.21l-2.3 3.63M314.94 413.88l0.73 3.12M314.44 418.84l3.14 0.22M316.86 418.09l-2.76 3.35M317.38 419.7l-1.26 3.1M317.09 382.21l1.69 2.65M320.19 384.7l-4.32 1.68M315.97 387.29l4.31 0.86M319.91 388.57l-2.68 3.18M319.29 391.93l-4.05 0.2M317.61 391.91l0.91 4.23M319.32 393.59l-1.18 4.37M319.07 395.68l-0.6 3.16M317.34 397.37l3.31 3.59M319.64 401.54l-4.73 0.75M316.11 402.86l4.5 1.08M318.26 404.83l0.59 2.96M317.13 406.43l0.58 4.88M318.96 408.16l-3.04 2.8M316.88 411.12l2.22 3.19M319.08 411.83l-0.71 4.79M317.43 415.33l2.72 2.42M318.95 416.25l-3.02 2.17M317.67 417.88l-0.85 3.8M314.96 420.8l4.65 1.81M317.98 421.14l-1.87 3.78M319.14 378.97l1.05 2.85M321.09 380.22l-3.84 3.13M317.72 383.04l2.95 1.25M320.66 383.89l-2.77 2.47M321.86 388.41l-3.6 0.09M318.18 389.65l4.03 0.65M318.39 390.95l4.19 2.06M320.39 392.71l-2.12 2.8M319.18 393.9l0.72 3.86M317.45 396.72l4.17 1.84M319.94 398.05l1.7 3.27M321.02 400.41l-1.3 3.67M318.84 400.94l0.67 4.6M320.16 404.9l1.08 2.81M319.89 407.09l0.29 3.6M317.72 408.03l3.14 2.72M319.55 410.45l0.63 3.78M318.4 411.77l2.31 3.14M321.31 414.93l-2.2 2.83M319.12 415.37l2.98 3.48M322.97 419.75l-4.63 0.8M318.09 419.71l2.19 3.56M321.62 424.56l-3.99 0.65M317.71 425.7l3.44 1.9M319.23 425.84l1.5 3.76M324.51 378.31l-4.71 0.54M320.58 380.55l3.28 0.6M322.85 380.96l-1.72 3.73M321.35 381.87l-0.19 3M321.07 385.69l3.31 2.08M322.75 386.45l-0.88 3.26M323.85 389.23l-3.77 2.42M320.74 391.1l4.19 2.39M322.86 391.06l-1.08 4.64M323.11 395.33l-2.81 1.73M320.66 395.98l3.36 2.14M320.51 397.93l3.61 3.17M320.25 402.43l3.06 0.03M320.46 404.03l3.46 0.15M320.98 404.09l2.05 2.72M320.82 406.06l3.17 2.44M323.26 407.86l-3.49 2.32M321.12 411.1l2.59 3.65M321.38 413.24l2.85 0.96M323.13 416.11l-4.08 0.28M323.99 417.48l-3.48 0.1M322.76 417.66l-0.38 4.62M323.78 422.18l-3.67 1.63M318.83 424.15l4.67 1.27M323.69 425.24l-4.32 2.06M321.1 426.89l0.21 3.1M323.11 374.35l0.79 4.69M321.94 377.45l4.91 0.25M323.85 378.74l1.47 2.83M322.5 379.7l1.63 3.27M323.34 382.96l2.27 2.74M326.31 385.49l-2.68 2.06M322.31 387.13l3.6 0.75M326.47 389.95l-3.09 1.83M324.39 389.42l-0.44 3.81M324.56 392.57l-0.93 2.98M325.33 395.32l-4.12 1.18M323.43 396.72l0.91 4.2M321.62 400.73l3.28 0.09M326.09 402.18l-4.75 0.63M325.1 402.84l-3.37 0.41M323.75 403.76l1.69 3.62M325.27 406.57l-2.03 4.17M322.32 409.4l2.26 2.01M324.54 410.93l-2.78 2.54M326.08 412.4l-2.44 2.22M325.24 413.23l-1.7 4.46M324.68 414.93l-1.75 4.48M325.42 417.89l-1.86 3.76M321.64 420.85l3.02 2.63M324.56 422.86l-1.64 2.6M323.83 425.34l1.13 3.29M326.2 427.11l-4.89 0.81M324.92 428.14l-0.31 3.61M324.48 430.02l-0.08 4.04M326.95 376.57l-3.32 0.7M325.87 376.11l-0.28 3.22M327.85 378.79l-3.08 1.7M324.85 381.25l2.76 1.31M327.03 384.09l-3.59 0.54M325.83 385.06l-0.81 3.44M323.55 388.39l4.1 0.95M327.98 388.51l-3.4 2.53M325.7 390.27l0.87 4.41M324.8 393l3.73 1.16M325.39 394.63l-0.52 3.21M323.7 397.25l2.72 1.37M325.09 398.09l3.03 2.23M324.01 401.27l2.94 2M324.66 403.47l3.11 2.17M324.79 404.36l1.76 3.56M324.99 406.92l3.38 0.98M327.31 407.03l-1.12 4.59M324.87 410.98l0.73 2.95M324.63 412.59l2.26 4M326.5 415.12l-2.55 3.51M324.88 416.46l1.47 2.94M327.65 419.51l-3.81 1.65M323.22 421.8l4.44 0.5M324.8 423.57l3.74 2.61M328.92 426.22l-4.15 0.88M326.86 425.93l-2.21 4.35M326.41 427.79l-1 3.64M326.72 430.85l-3.34 0.52M329.67 372.46l-3.58 3.02M327.44 373.17l2.57 4.27M329.83 377.98l-3.57 0.67M327.25 378.43l2.02 4.52M325.73 381.55l3.92 2.18M327.99 381.96l1.51 3.43M328.07 384.12l0.96 3.46M327.19 386.64l1.14 4.68M328.04 387.93l-0.97 4.71M330.24 390.85l-4.16 2.41M325.99 394.02l4.16 0.19M329 394.31l-0.7 3.27M326.15 396.76l4.21 1.27M327.05 396.94l1.89 4.48M328.97 400.25l-3.06 1.94M327.85 401.71l0.71 4.81M329.48 404.94l-4.25 2.4M328.97 406.96l-2.7 4.06M328.02 408.78l-1.79 2.48M326.53 410.11l1.39 3.72M329.55 414.63l-4.28 0.45M326.17 414.21l2.89 1.84M329.52 417.99l-3.85 0.94M327.76 419l-0.05 3.32M327.95 419.77l-0 3.55M328.83 422.13l-2.33 3.47M326.24 424.64l2.93 2.14M328.86 426.22l-0.56 3.95M327.27 428.83l3.29 0.81M329.24 430.94l-4 2.86M326.53 433.03l3.86 1.64M329.02 371.35l3.54 2.36M329.47 372.73l2.54 3.96M332.08 375.94l-3.56 0.59M332.15 376.13l-3.05 3.11M328.69 379.22l3 2.08M331.5 380.15l-1.67 2.99M328.94 382.96l2.44 2.73M330.35 383.57l0.62 4.35M330.84 385.94l-1.47 4.42M327.61 390.21l3.51 1.49M327.24 390.44l3.74 1.33M332.47 394.39l-4.02 0.34M329.18 393.44l0.67 4.87M331.11 395.65l-2.44 3.69M329.62 398.65l1.51 3.06M330.75 401.74l-3.11 1.37M327.99 402.84l2.68 2.14M329.11 404.89l3.46 3.53M328.42 407.66l3.09 1.32M327.27 410.18l4.02 0.09M329.87 409.45l1.64 3.76M329.28 412.88l-0.44 4.04M332.62 416.02l-3.99 0.8M330.81 416.69l-0.42 3.65M327.85 417.35l3.41 3.54M329.88 420.14l-1.51 4.49M331.33 422.25l-2.51 2.85M329.33 424.03l0.65 4.25M330.22 425.68l0.56 3.41M327.71 429.13l3.89 1.81M329.2 429.14l-0.37 3.84M329.42 433.64l2.95 0.68M334.7 372.63l-4.23 1.33M330.5 374.94l4.64 0.41M329.69 377.89l2.93 1.42M330.09 379.15l2.23 3.3M333.83 380.9l-3.3 3.2M330.18 383.64l3.14 1.28M332.11 385.07l0.36 3.02M331.11 385.5l0.53 3.42M330.5 388.82l4.34 0.62M330.8 389.65l2.11 4.48M333.56 393.86l-2.48 1.75M330.43 393.99l1.37 2.68M332.24 395.98l0.37 3.49M330.56 398.59l2.58 4.09M331.22 401.26l1.33 2.97M333.54 401.38l-2.17 4.09M333.28 405.36l-3.15 2.06M330.74 406.07l2.95 2.5M331.4 407.94l0.92 3.84M330.55 409.24l2.47 3.59M333.21 411.03l-2.02 4.13M334.12 414.44l-3.93 2.95M333.44 415.37l-2.53 3.36M331.26 418.82l3.22 3.02M330.04 419.06l2.88 4.04M331.42 422.67l2.15 3.73M333.7 425.46l-3.58 0.3M334.15 428.44l-3.41 0.83M331.13 428.16l0.4 3.5M333.78 430.54l-1.76 2.92M332.93 432.33l-0.51 3.11M334.13 434.73l-3.57 2.41M333.51 368.56l-0.64 4.9M334.88 372.08l-1.15 3.28M333.18 373.57l1.56 4.2M333.28 376.17l3.41 2.06M334.2 377.79l0.57 3.18M333.01 380.79l2.1 3.81M336.09 383.09l-2.52 2.17M336.18 386.05l-2.56 1.59M333.27 385.81l0.54 4.48M332.5 389.43l2.48 1.81M332.36 391.37l2.03 3.18M332.88 393.93l3.02 0.38M331.84 395.23l4.33 0.37M333.16 395.98l2.9 3.02M336.28 398.89l-4.77 0.37M335.83 402.37l-4.16 0.84M334.82 402.4l-1.29 4.33M333.77 404.08l2.11 3.47M333.43 405.88l-0.84 3.13M333.96 407.27l1.17 4.52M334.33 410.02l-1.92 3.69M332.45 412.97l3.15 1.54M333.76 413.66l-1.17 3.86M335.24 416.48l-0.54 3.57M331.89 419.08l2.81 3.34M335.09 419.78l-2.13 3.14M336.04 424.06l-3.46 1.6M332.93 424.76l0.33 4.01M332.11 426.42l3.73 1.21M333.6 427.99l1.76 3.33M335.47 430.36l-3.06 2.39M334.94 433.48l-3.54 2.1M332.8 433.54l2.11 3.68M337.47 370.18l-3 2.08M336.66 371.99l-0.76 3.2M338.42 375.17l-3.69 1.39M333.83 375.84l2.97 3.24M335.39 379.08l1.24 2.98M335.99 380.76l1.13 3.04M335.92 382.13l-0.82 4.02M337.31 383.01l-2.37 4.13M335.4 387.1l1.46 3.16M338.68 389.46l-4.44 0.32M334.12 391.97l2.4 1.97M338.25 393.76l-2.97 1.93M337.6 394.52l-3.62 2.57M336.39 395.38l-0.75 4.63M338.55 397.76l-3.42 2.97M334.7 402.13l3.16 1.6M336.37 402.21l-1.77 3.35M335.24 403.88l0.13 4.68M337.35 406.26l-3.86 2.63M337.58 408.32l-1.93 4.56M334.18 412.99l4.06 0.02M335.05 410.72l0.93 4.85M335.53 413.54l2.32 3.54M336.46 417.23l-1.81 3.1M337.84 419.51l-3.53 2.73M337.03 420.19l-1.58 3.57M334.45 422.59l2.96 1.48M334.17 424.76l3.33 3.44M335.13 425.29l1.57 3.91M335.59 429.15l1.94 2.38M335.42 430.08l-0.55 4.54M337.62 433.46l-3.9 1.2M337.46 434.42l-2.4 2.59M338.69 435.78l-3.62 2.64M336.03 369l2.71 3.22M336.87 371.04l1.92 3.3M339.38 373.87l-2.86 1.28M338.91 373.9l-3.15 3.81M340.27 377.37l-4.75 0.92M339.38 379.49l-3.93 1.39M340.27 380.99l-3.75 2.91M339.33 382.71l-3.82 2.56M336.99 385.16l3.94 1.09M335.57 387.83l3.23 1.41M337.83 389.02l2.19 2.84M338.31 389.67l-2.3 4.09M340.33 391.82l-3.34 2.84M337.22 395.03l2.97 1.41M339.89 396.58l-3.2 3.61M340.21 398.79l-2.68 1.97M335.66 401.64l3.15 1.09M340.21 403.56l-3.22 2.14M336.92 404.78l1.77 4.06M339.01 405.37l-0.58 3.98M337.47 408.24l0.32 3.63M337.42 411.43l2.16 2.19M335.51 413.65l4.16 1.37M336.81 414.98l4.07 0.41M339.56 416.63l-2.15 3.69M340.3 419.49l-3.94 2.76M340.65 421.16l-4.77 0.4M339.25 422.25l-3.37 3.09M336.86 424.74l3.41 1.83M339.82 426.77l-3.67 2.56M336.45 430.24l4.76 1.35M339.05 430.85l-1.99 3.21M339.55 431.56l-1.21 2.91M335.86 435.23l2.8 3.25M339.63 436.2l-2.81 2.67M338.18 368.68l4.01 0.65M341.88 371.99l-3.87 1.92M340.91 372.81l-1.44 3.33M340.44 374.42l-0.59 2.99M339.43 376.01l0.59 4.81M340.79 378.7l-0.32 4.1M339.73 378.99l0.42 4.31M337.67 383.35l3.64 2.12M339.62 385.53l2.57 1.58M338.9 386.09l0.81 3.84M337.15 388.88l3.77 2.85M339.5 391.02l2.58 1.61M341.14 392l-0.96 3.42M341.77 393.5l-3.3 3.35M338.54 396.95l1.94 2.69M339.29 397.13l0.97 4.02M340.64 399.49l-2.88 3.49M339.4 403.41l2.67 2.88M337.38 404.54l4.07 1.13M341.66 407.99l-2.98 1.68M338.4 408.66l1.22 3.46M339.05 409.94l2.12 3.13M340.78 413l-1.38 3.11M339.51 416.33l2.91 0.93M339.22 417.63l2.95 0.57M338.29 418.86l3.28 2.61M340.57 420.58l-0.68 3.91M338.64 422.37l1.75 3M341.52 424.21l-1.98 4.39M340.62 427.4l-2.97 2.97M338.62 429.14l3.01 2.93M339.86 429.5l-1.36 4.41M342.21 433.47l-3.06 0.7M339.29 433.82l1.45 2.84M339.43 434.9l1.83 4.39M339.62 367.68l4.37 2.16M341.39 368.61l0.32 3.12M339.19 370.43l4.26 1.67M344.38 371.81l-3.5 2.59M344.11 375.48l-4.55 0.89M340.7 377.28l4.57 1.33M344.5 380.24l-3.84 0.98M343.96 381.73l-4.23 1.45M340.67 381.84l1.19 4.54M342.13 384.64l-1.88 3.51M340.81 385.59l1.46 3.69M342.26 388.19l1.39 4.65M342.8 389.5l0.3 4.62M342.88 392.74l-1.08 3.32M344.13 393.6l-3.55 3.2M339.97 396.27l2.58 2.26M343.51 398.92l-2.77 3.48M341.43 400.38l2.38 3.69M343.68 401.77l-3.73 3.02M340.65 405.38l4.64 0.26M340.25 405.95l1.7 2.79M343.17 407.41l-2.04 4.56M342.42 411.5l-2.54 1.63M339.56 413.74l4.44 0.49M344.16 414.54l-2.98 2.17M341.01 417.07l3.29 3.47M342.66 417.2l0.42 4.2M340.69 420.54l1.33 4.31M343.54 423.2l-3.58 1.22M340.83 425.64l2.51 1.67M342.71 424.68l-0.05 4.8M341.96 428.49l-1.12 2.94M342.43 431.13l-2.67 3.54M342.44 431.81l0.17 4.78M340.46 435.47l4.15 1.67M344.49 437.53l-3.5 2.61M341.43 437.44l1.49 3.22M343.12 369.65l3.21 1.03M345.64 368.97l-1.63 4.26M342.84 373.02l3.04 0.39M344.56 375.64l-2.5 2.03M343.95 375.24l2.01 3.81M342.08 378.18l2.57 2.79M345.23 380.97l-2.25 2.87M345.38 382.52l-4.38 1.35M345.74 385.13l-4.84 0.67M344.27 387.38l1.09 2.81M345.67 389.51l-4.25 0.26M345.31 390.21l-1.08 3.33M341.75 392.16l3.53 2.13M344.82 393.16l-1.3 3.73M342.67 397.53l4.07 1.05M342.35 398.24l3.32 2M341.64 401.39l3.03 0.84M342.34 404.56l3.44 0.1M342.93 404.72l2.38 2.07M342.84 407.03l2.03 3.88M342.65 409.94l3.42 1.06M342.77 410l3.29 2.2M346.31 413.93l-4.75 1.12M343.51 413.21l1.05 3.63M341.49 416.86l3.59 0.35M343.37 417.71l0.95 3.68M343.54 420.55l2.1 2.38M343.37 421.8l0.31 4.91M345.98 424.47l-2.59 2.92M344.73 426.88l-2.81 4.04M343.45 430.15l2.87 1.14M344.06 430.39l1 3.77M346 433.55l-2.47 2.49M342.6 435.13l1.76 3.39M342.31 437.58l3.76 2.17M346.99 368.91l-3.73 2.4M348.18 370.05l-2.42 3.23M345.31 373.75l2.99 2.13M343.88 375.88l3.71 0.83M346 376.87l-1.79 2.81M345.54 378.18l1.55 3.99M346.58 380.7l-2.96 3.79M348.48 383.95l-3.02 1.68M344.42 383.43l2.88 3.31M345.22 386.02l3.56 2.45M345.17 388.28l1.18 3.19M344.33 390.99l1.89 2.49M343.58 392.4l4.01 2.44M343.47 395.72l4.54 0.68M343.33 396.95l4.54 0.33M345.53 397.93l1.33 2.87M347.93 401.33l-3.16 1.19M345.86 401.71l1.13 4.34M347.83 405.5l-3.24 2.36M343.54 406.38l3.24 2.66M343.11 410.4l4.29 0.9M344.51 412.14l4.31 0.02M346.38 412.12l-2.5 3.08M344.95 415.86l3.66 0.28M346.46 416.1l-1.09 4.56M344.08 419.11l2.32 3.38M343.9 421.19l3.06 1.72M347.63 421.61l-2.03 3.34M343.98 424.67l3.71 1.05M346.3 425.96l-0.4 4.27M343.7 429.03l3.06 0.4M344.31 431.73l2.49 2.05M345.14 433.74l2.03 2.29M343.71 434.82l3.23 1.22M346.74 437.11l-2.08 3.02M346.8 368.75l3.8 1.46M348.95 370.15l-3.82 2.08M348.13 370.92l0.04 4.38M347.96 374.22l0.91 4.31M349.58 377.78l-4.71 0.79M349.16 379.32l-3.51 0.3M347.87 381.03l0.04 3.46M347.87 381.55l-1.32 3.71M346.49 385.1l4.12 2M350.47 387.05l-3.37 0.1M347 388.96l2.64 2.74M349.37 390.27l-2.88 2.88M346.6 394.13l3.61 0.2M351.13 395.09l-4.88 0.42M349.63 396.45l-3.61 2.73M348.59 398.47l-2.66 1.98M347.13 399.32l1.11 3.77M348.1 401.89l0.1 3.51M346.67 405.73l2.56 1.99M349.77 407.57l-3.53 2.53M349.09 408.21l-1.64 3.4M349.07 410.59l-3.08 3.76M347.65 412.53l-0.5 3.13M349.96 415.83l-4.02 0.53M346.72 416.12l1.62 3.08M346.78 416.79l0.96 4.83M346.28 421.8l3.98 1.23M347.71 421.45l-0.98 4.04M348.39 423.75l-1.77 3.57M350.02 427.61l-3.91 0.58M349.23 430.11l-4.17 0.18M347.06 429.94l2.28 2.33M346.38 433.68l3.52 2.17M347.32 434.45l1.06 3.14M347.15 436.01l0.72 3.05M347.38 368.9l3.86 1.65M352.5 371.8l-4.32 2.14M347.57 372.1l3.35 2.54M349.38 373.88l3.12 3.29M348.64 377.1l1.67 2.84M349.71 378.11l2.13 3.53M350.54 379.91l-1.98 3.35M348.31 383.05l3.02 1.75M349.84 383.24l-0.65 3.91M349.12 387.36l2.5 2.21M351.68 388.73l-3.45 0.69M350.81 390.56l-1.57 3.7M351.53 392.64l-1.51 4.54M351.42 396.14l-4.25 0.14M348.5 396.28l2.76 2.27M352.05 398.38l-2.34 3.19M351.84 400.18l-3.06 3.7M351.57 402.82l-2.28 4.26M348.6 405.14l3.12 0.92M349.96 405.3l-1.46 4.3M347.99 408.73l2.36 4.29M349.1 410.05l3.32 2.02M350.89 412.58l-1.99 4.44M349.79 414.91l-0.8 3.8M350.74 414.64l0.24 4.99M352.35 419.25l-3.08 0.48M347.12 422.45l3.84 0.91M351.66 422.14l-2.71 3.17M350.08 425.07l-0.36 3.25M350.87 424.98l-0.89 4.45M351.88 430.13l-3.37 1.64M348.95 430.38l0.66 4.08M349.57 433.19l2.53 3.32M348.07 436.27l4.54 0.74M348.95 437.89l2.46 1.85M350.06 367.88l3 3.35M352.27 369.67l0.98 4.61M353.91 373.73l-3.42 1.81M353.03 372.74l-1.36 4.68M351.92 376.04l-1.45 2.89M352.73 378.33l-1.95 4.31M354.13 379.27l-3.07 3.62M354.79 384.52l-4.47 0.68M352.12 384.67l-0.07 3.56M350.93 387.14l1.93 3.03M353.51 389.8l-4.58 0.03M351.29 392.06l3.25 1.87M354.06 393.71l-3.67 0.96M350.36 394.83l3.2 2.04M351.3 395.4l1.97 3.31M349.5 397.92l3.17 3.62M352.03 400.27l1.73 3.64M350.12 402.16l4.43 2.29M350.7 405.08l1.72 3.3M353.32 408.1l-2.83 1.42M350.17 408.66l4.23 1.1M351.53 409.81l0.24 4.53M353.35 411.49l-1.96 4.55M350.35 413.18l2.56 3.81M352.79 417.64l-3.22 1.02M354.13 420.67l-4.92 0.3M350.08 421.64l3.23 0.93M352.87 421.2l-3.01 3.84M354.57 425.37l-3.69 1.43M354.11 427.9l-3.47 1.87M353.37 428.69l-1.95 4.15M351.21 430.55l2.9 1.15M349.2 433.66l3.74 0.74M351.49 433.25l0.77 3.88M351.14 437.12l2.15 2.93M355.01 368.63l-2.8 1.75M354.96 370.06l-1.41 2.66M352.57 373.38l4.06 2.39M352.05 374.44l3.55 2.28M351.76 377.23l3.34 0.42M351.91 378.98l3.46 1.45M355.65 380.72l-3.57 0.66M351.65 382.35l3.31 1.35M354.78 383.12l-0.49 4.38M353.36 385.77l1.08 3.8M355.6 388.38l-1.5 2.8M356.09 391.33l-3.34 0.27M354.68 391.73l-2.7 3.96M355.24 393.75l-1.11 4.48M351.95 396.27l2.83 1.95M354.46 399.22l-2.88 1.89M353.22 401.44l3.39 1.92M353.08 402.55l3.81 0.93M353.15 403.21l1.46 3.84M353.43 405.02l-0.06 4.69M355.02 408.94l-0.97 3.88M352.89 411.42l1.72 2.82M355.23 414.2l-3.81 1.07M354.88 415.02l-3.48 3.28M354.71 415.15l-0.33 3.94M355.06 418.59l-3.08 1.92M354.68 420.04l-1.95 3.18M353 422.43l2.92 3.17M353.1 423.38l1.04 3.71M353.18 426.5l1.47 3.83M353.46 427.87l2.1 4.51M356.11 431.54l-3.21 0.45M356.27 433.26l-4.91 0.56M353.39 433.23l-0.66 4.66M355.8 371.04l-1.23 3.79M354.39 372.81l2.31 4.34M354.8 375.42l1.07 2.88M356.86 376.9l-3.41 0.67M354.84 378.23l1.79 3.52M357.62 382.13l-3.83 1.27M353.85 383.39l2.52 2.57M355.15 383.57l-0.17 3.77M357.82 386.03l-3.57 2.89M354.91 389.92l3.15 1.97M358.15 390.68l-2.54 3.26M354.85 392.21l1.9 3.03M358.12 394.17l-4.36 1.99M355.87 397.18l1.62 2.61M354.07 400.21l3.31 0.89M354.75 400.74l2.55 4.2M356.73 402.42l-1.2 4.83M357.65 403.53l-3.27 3.7M355.05 407.64l2.87 1.32M354.63 407.4l1.69 3.54M358.66 410.11l-3.58 3.23M357 412.19l-2.33 2.66M353.05 414.47l4.27 1.78M357.05 418.09l-2.99 0.76M357.53 418.66l-3.08 2.7M355.14 420.52l0.1 3.57M358.16 423.01l-3.1 0.03M354.76 423.79l1.37 2.9M357.31 425.06l-2.02 4.52M355.79 427.66l-0.66 3.26M356.47 431.21l-2.75 1.38M354.29 432.86l3.57 3.31M354.59 435.53l4.68 1.33M353.95 436.92l4.16 0.36M356.85 369.23l3.04 3.33M357.73 370.86l1.19 2.81M355.68 374.07l4.37 0.79M359.14 376.1l-3.27 1.32M356.2 377.61l3.29 0.8M355.93 378.14l4.29 1.78M355.66 382.25l3.65 1.22M356.88 382.9l1.02 3.81M356.95 384.84l1.96 3.97M359.88 386.02l-1.98 2.89M358.83 388.29l-3.6 1.58M355.31 390.83l3.74 3.12M358.69 392.54l-2.89 3.17M359.08 393.89l-1.33 4.52M356.52 396.29l1.38 3.58M355.35 400.77l3.87 0.33M355.54 401.07l3.26 0.5M357.31 403.7l3.23 0.58M356.26 405.36l4.22 2.42M360.46 408.43l-3.03 0.19M357.62 406.75l-1.06 4.76M360.59 411.69l-4.77 1.03M359.89 413.02l-4.73 0.66M359.04 414.56l-3.62 0.98M357.91 415.59l1.16 4.2M357.41 417.31l1.63 3.49M358.17 419.78l-2.24 4.18M356.15 423.24l3.76 1.11M357.49 423.88l2.55 3.05M359.94 426.84l-3.74 1.49M360.03 427.86l-3.35 3.4M359.19 431.86l-3.87 1.5M359.12 432.37l-0.34 4.97M358.13 434.32l1.23 3.49M359.83 372.42l-0.85 3.61M357.91 374.7l3.39 0.66M361.29 376.63l-2.04 3.51M357.69 379.11l4.76 0.97M359.93 381.53l1.52 2.87M360.86 381.72l-0.83 3.76M357.85 385.05l2.99 0.96M363.11 386.53l-4.63 1.07M359.76 387.86l1.71 4.42M359.59 390.84l2.79 1.61M357.46 392.12l4.18 1.9M357.05 395.28l4.68 1.73M358.33 397.79l2.13 2.27M358.33 398.99l3.96 0.79M358.41 400.17l1.43 3.8M357.94 402.84l3.02 1.03M358.48 406.38l3.55 0.71M356.87 408.03l4.62 0.33M358.62 408.72l4.31 1.15M360.48 410.42l-1.02 3.42M359.05 412.64l3.63 3.28M358.12 414.38l3.09 3.48M359.45 416.52l-0.53 3.09M358.51 419.01l3.63 0.37M362.18 421.69l-4.03 1.31M358.31 421.47l1.85 4.41M357.81 424.29l3.26 1.76M359.59 427.53l1.9 2.82M357.09 429.69l4.26 0.76M358.31 430.01l3.02 3.32M362.02 433.34l-3.7 2.86M362.56 371.84l-2.14 3.15M360.54 375.23l3.92 1.11M364.38 377.02l-4.25 0.94M363.74 378.64l-3.16 0.88M363.32 380.66l-3.18 2.08M363.29 384.38l-3.26 0.93M364.48 385.08l-3.46 2.52M362.6 386.31l-0.15 4.9M362.8 387.62l-0.28 4.22M362.53 389.17l-0.63 4.89M364.41 393.94l-3.94 0.8M362.67 393.17l-0.95 4.23M360.2 398.03l3.22 0.65M362.85 398.9l-2.31 3.31M364.26 401.81l-2.8 1.52M362.42 403.63l-2.26 2.05M362.16 403.38l0.21 4.27M360.53 407.67l3.36 1.57M361.15 409.82l3.57 1.42M364.17 411.33l-2.61 1.96M359.82 413.21l3.19 2.88M361.1 415.3l3.41 0.7M360.87 416.21l2.57 1.67M360.22 420.25l4.81 1.22M360.78 421.06l0.71 3.55M361.78 422.04l0.26 3.18M360.33 424.83l1.86 2.51M363.51 426.48l-2.3 3.72M362.1 427.06l0.03 4.51M362.21 430.92l-1.13 3.53M359.52 432.49l3.27 1.05M360.01 434.12l2.79 3.03M363.58 372.08l0.05 4.06M365.9 376.63l-4.17 0.47M365.2 376.76l-2.87 2.1M364.26 378.48l0.26 3.12M362.96 380.55l2.93 1.94M366.1 382.19l-2.79 3.52M363.83 384.69l-1 3.31M362.89 386.72l0.5 4.01M363.68 386.92l0.87 4.7M366.28 392.01l-2.64 1.47M365.68 393.9l-4.81 0.15M361.95 395.84l3.93 0.59M364.52 398.06l-2.52 1.72M362.38 399.16l4.96 0.56M365.62 399.41l-2.34 4.02M363.73 402.27l-0.44 3.57M365.6 405.03l-3.92 2.54M363.37 406.95l2.88 2.01M366.14 408.91l-3.28 2.32M363.2 410.88l2.76 2.18M365.04 412.65l-1.58 3.56M365.63 414.03l-1.66 4.25M362.92 415.93l1.16 4.78M364.39 419.59l-2.55 1.97M363.43 422.23l2.92 0.76M362.93 424.05l3.65 0.31M361.43 424.96l3.4 3.26M363.99 425.43l-0.57 3.16M363.6 428.7l2.45 4.2M363.49 430.62l0.01 3.35M365.15 432.84l-4.12 1.23M366.85 375.66l-1.96 2.33M363.71 376.73l2.78 1.43M367.64 380.5l-3.4 0.35M365.53 380.69l-0.37 3.97M365.04 382.84l3.75 2.33M365.99 385.03l-1.88 3.82M363.5 387.13l3.51 0.97M369.03 389.25l-4.1 2.12M367.61 390.4l-3.55 2.5M365.85 392.52l-1.68 3.85M363.31 395.83l4.21 0.26M367.75 397.78l-4.05 2.11M366.92 398.6l-2.55 2.99M363.44 401.67l3.3 2.13M364.47 402.99l2.9 1.44M365.03 404.29l0.99 3.92M367.88 408.74l-4.09 0.43M368.31 409.68l-2.8 2.57M364.58 410.59l2.66 3.79M364.02 412.51l2.86 1.55M364.15 415.2l3.88 2.2M364.25 415.8l3.4 2.6M367.54 417.65l-3.55 3M365.94 420.79l1.79 2.47M366.72 422.55l-2.56 2.57M363.1 426.55l4.93 0.75M364.28 426.07l3.74 2.17M363.96 428.49l3.17 2.69M366.29 429.5l-0.22 4.9M367.71 376.25l2.35 2.43M368.08 378.23l-2.11 2.22M369.29 381.41l-1.52 3.08M370.58 384.05l-3.31 1.54M366.01 383.36l1.98 3.34M367.34 386.48l1.68 2.53M370.09 390.17l-3.52 0.7M368.84 390.67l-1.16 3.17M367.01 393.57l2.55 2.19M370.17 395.06l-3.73 1.35M369.93 398.12l-4.15 1.14M366.95 398.89l3.8 2.53M367.3 401.34l3.31 0.5M369.4 403.1l-4.19 1.66M366.08 406.86l4.49 0.12M368.76 408.5l-3.4 0.08M366.6 408.63l0.84 2.98M368.12 410.49l-0.23 4.07M370.88 413.02l-4.88 0.22M370.07 414.33l-2.42 3.25M368.55 417.12l0.75 3.63M370.5 420.87l-3.76 0.12M369.06 420.85l-0.76 3.33M367.55 421.64l1.19 4.58M365.78 425.58l3.26 0.36M370.15 428.31l-4.43 0.93M367.7 427.26l0.21 4.06M367.04 429.13l-0.04 4.61M368.42 375.9l1.51 2.77M369.31 378.56l1.5 3.57M370.21 380.25l-1.19 4.83M368.5 382.49l3.36 3.38M368.49 384.8l1.57 2.91M371.15 387.2l-0.91 3.01M370.98 388.32l-0.62 3.27M371.51 390.52l-2.86 1.52M372.41 394.38l-4.7 1.05M371.58 394.98l-4.49 1.65M371.69 396.12l-1.72 2.85M368.25 398.79l1.62 4.28M367.93 401.84l2.81 1.39M370.71 403.96l-2.31 2.05M369.67 404.97l2.65 1.66M371.45 407.48l-4.44 0.92M368.26 409.37l4.45 0.82M370.07 410.82l1.21 3.65M368.07 412.49l2.97 1.31M369.23 415.89l3.48 1.5M372.67 417.93l-4.57 0.59M372.04 419.21l-4.59 1.74M369.91 420.16l1.8 4.41M371.92 422.21l-3.35 3.3M368.01 425.02l3.12 0.8M368.83 426.62l1.47 2.78M371.25 427.44l-1.5 3.65M373.13 379.97l-3.38 0.91M372.85 379.83l-3.01 3.2M369.14 384.17l4.62 0.85M373.79 385.75l-3.69 1.83M372.53 386.22l-2.86 3.9M373.95 390.16l-3.12 1.49M373.84 390.82l-4.06 2.33M374.46 392.03l-3.68 2.78M373.35 394.09l-3.27 2.37M372.09 395.97l-0.91 4.07M371.71 399.43l1.15 2.84M375.02 400.76l-4.17 2.06M371 402.41l1.17 2.83M374.86 406.03l-4.55 1.84M371.3 405.62l1.09 4.38M371.97 408.59l-0.42 4.78M374.99 411.45l-4.27 0.91M370.44 411.64l1.55 4.35M372.73 414.42l-3.07 1.84M370.55 415.1l1.89 4.13M371.01 419.24l3.9 0.79M374.72 420.93l-4.23 1.79M371.75 423.31l-0.78 3.01M371.42 425.05l2.61 1.49M372.42 380.71l1.73 4.49M372.4 383l4.17 0.52M376.68 385.36l-4.99 0.04M371.54 387.66l3.58 1.41M373.85 388.63l-1.23 3.13M372.41 389.83l2.53 4M374.82 391.52l-1.5 3.36M374.82 394.25l-1.86 2.89M376.64 397.45l-3.97 0.8M372.96 398.41l3.57 2.23M375.33 400.68l-4.54 0.66M375.57 402.52l-1.45 3.06M373.27 405.44l1.59 2.94M372.62 406.13l1.07 3.68M376.6 409.1l-4.77 0.84M372.34 410.76l3.45 1.94M374.25 412.47l-2.35 2.19M373.26 413.86l2.01 3.87M375.36 417.03l-2.98 0.81M374.62 418.69l-1.99 2.73M375 419.58l-0.8 4.93M374.92 421.43l-0.99 4.87M376.65 384.73l-1.53 3.82M374.2 385.89l2.51 3.18M376.65 388.69l-1.32 2.75M374.56 390.14l2.11 2.88M378.11 392.95l-4.18 1.92M378.15 396.32l-4.83 1.01M376.57 396.34l-2.72 2.37M374.9 398.57l2.36 3.1M375.76 399.65l0.62 4.01M377.11 402.73l-0.37 3.99M377.75 405.02l-4.32 2.11M376.82 406.12l-0.24 4.75M377.86 408.77l-4 1.1M375.03 410.34l1.99 3.92M374.76 412.76l2.83 1.15M375.42 413.33l0.76 3.96M373.53 416.38l3.39 3.26M374.52 419.59l3.07 0.81M375.16 422.1l-0.07 3.03M380.22 390.17l-2.82 3.27M380.14 392.03l-3.34 1.99M377.45 394.05l-0.68 3.45M378.55 395.66l-2.75 3.5M378.22 398.11l-1.78 3.89M379.22 400.11l-2.07 3.3M377.04 402.05l0.05 4.3M379.04 404.06l-1.81 2.78M379.16 406.54l-2.58 2.07M378.11 407.5l-2.09 3.21M375.43 411.68l3.46 0.83M380.02 412.48l-2.83 2.36M379.54 415.62l-3.53 1.17M376.82 417.68l3.08 1.19M381.34 394.96l-1.84 3.9M379.3 396.12l0.01 3.12M381.49 400.14l-3.05 0.85M381.41 401.29l-2.63 3.24M380.54 401.93l-0.4 3.8M377.22 404.72l3.69 3.12M379.23 406.37l2.38 2.24M379.95 407.95l-0.41 3.73M381.39 414.39l-4.36 2.04" stroke="#000" stroke-width="0.85" fill="none"/><circle cx="346" cy="404" r="4.3" fill="#fff"/></g><circle cx="346" cy="404" r="34.4" fill="none" stroke="#000" stroke-width="2.2"/><g clip-path="url(#c5)"><circle cx="291" cy="451.1" r="35.5" fill="#000"/><path d="M301.77 451.84L312.79 451.7L312.57 454.29L301.74 452.24ZM301.48 453.7L312.36 455.48L311.68 457.99L301.38 454.09ZM300.87 455.48L311.27 459.12L310.17 461.47L300.7 455.84ZM299.96 457.13L309.57 462.52L308.08 464.65L299.73 457.46ZM298.78 458.59L307.31 465.57L305.47 467.41L298.49 458.88ZM297.36 459.83L304.55 468.18L302.42 469.67L297.03 460.06ZM295.74 460.8L301.37 470.27L299.02 471.37L295.38 460.97ZM293.99 461.48L297.89 471.78L295.38 472.46L293.6 461.58ZM292.14 461.84L294.19 472.67L291.6 472.89L291.74 461.87ZM290.26 461.87L290.4 472.89L287.81 472.67L289.86 461.84ZM288.4 461.58L286.62 472.46L284.11 471.78L288.01 461.48ZM286.62 460.97L282.98 471.37L280.63 470.27L286.26 460.8ZM284.97 460.06L279.58 469.67L277.45 468.18L284.64 459.83ZM283.51 458.88L276.53 467.41L274.69 465.57L283.22 458.59ZM282.27 457.46L273.92 464.65L272.43 462.52L282.04 457.13ZM281.3 455.84L271.83 461.47L270.73 459.12L281.13 455.48ZM280.62 454.09L270.32 457.99L269.64 455.48L280.52 453.7ZM280.26 452.24L269.43 454.29L269.21 451.7L280.23 451.84ZM280.23 450.36L269.21 450.5L269.43 447.91L280.26 449.96ZM280.52 448.5L269.64 446.72L270.32 444.21L280.62 448.11ZM281.13 446.72L270.73 443.08L271.83 440.73L281.3 446.36ZM282.04 445.07L272.43 439.68L273.92 437.55L282.27 444.74ZM283.22 443.61L274.69 436.63L276.53 434.79L283.51 443.32ZM284.64 442.37L277.45 434.02L279.58 432.53L284.97 442.14ZM286.26 441.4L280.63 431.93L282.98 430.83L286.62 441.23ZM288.01 440.72L284.11 430.42L286.62 429.74L288.4 440.62ZM289.86 440.36L287.81 429.53L290.4 429.31L290.26 440.33ZM291.74 440.33L291.6 429.31L294.19 429.53L292.14 440.36ZM293.6 440.62L295.38 429.74L297.89 430.42L293.99 440.72ZM295.38 441.23L299.02 430.83L301.37 431.93L295.74 441.4ZM297.03 442.14L302.42 432.53L304.55 434.02L297.36 442.37ZM298.49 443.32L305.47 434.79L307.31 436.63L298.78 443.61ZM299.73 444.74L308.08 437.55L309.57 439.68L299.96 445.07ZM300.7 446.36L310.17 440.73L311.27 443.08L300.87 446.72ZM301.38 448.11L311.68 444.21L312.36 446.72L301.48 448.5ZM301.74 449.96L312.57 447.91L312.79 450.5L301.77 450.36ZM313.8 451.35L326.5 451.31L326.44 453.21L313.77 452.35ZM313.57 454.32L326.17 455.94L325.86 457.82L313.41 455.31ZM312.96 457.24L325.23 460.49L324.68 462.31L312.67 458.2ZM311.97 460.05L323.72 464.88L322.93 466.61L311.56 460.96ZM310.62 462.71L321.64 469.03L320.63 470.65L310.09 463.56ZM308.94 465.17L319.03 472.88L317.83 474.35L308.3 465.95ZM306.95 467.4L315.95 476.35L314.57 477.65L306.22 468.08ZM304.68 469.34L312.44 479.39L310.9 480.5L303.87 469.92ZM302.19 470.97L308.57 481.95L306.89 482.84L301.3 471.44ZM299.5 472.26L304.39 483.98L302.61 484.65L298.56 472.61ZM296.66 473.19L299.98 485.44L298.13 485.88L295.69 473.41ZM293.73 473.74L295.42 486.32L293.53 486.51L292.74 473.83ZM290.75 473.9L290.79 486.6L288.89 486.54L289.75 473.87ZM287.78 473.67L286.16 486.27L284.28 485.96L286.79 473.51ZM284.86 473.06L281.61 485.33L279.79 484.78L283.9 472.77ZM282.05 472.07L277.22 483.82L275.49 483.03L281.14 471.66ZM279.39 470.72L273.07 481.74L271.45 480.73L278.54 470.19ZM276.93 469.04L269.22 479.13L267.75 477.93L276.15 468.4ZM274.7 467.05L265.75 476.05L264.45 474.67L274.02 466.32ZM272.76 464.78L262.71 472.54L261.6 471L272.18 463.97ZM271.13 462.29L260.15 468.67L259.26 466.99L270.66 461.4ZM269.84 459.6L258.12 464.49L257.45 462.71L269.49 458.66ZM268.91 456.76L256.66 460.08L256.22 458.23L268.69 455.79ZM268.36 453.83L255.78 455.52L255.59 453.63L268.27 452.84ZM268.2 450.85L255.5 450.89L255.56 448.99L268.23 449.85ZM268.43 447.88L255.83 446.26L256.14 444.38L268.59 446.89ZM269.04 444.96L256.77 441.71L257.32 439.89L269.33 444ZM270.03 442.15L258.28 437.32L259.07 435.59L270.44 441.24ZM271.38 439.49L260.36 433.17L261.37 431.55L271.91 438.64ZM273.06 437.03L262.97 429.32L264.17 427.85L273.7 436.25ZM275.05 434.8L266.05 425.85L267.43 424.55L275.78 434.12ZM277.32 432.86L269.56 422.81L271.1 421.7L278.13 432.28ZM279.81 431.23L273.43 420.25L275.11 419.36L280.7 430.76ZM282.5 429.94L277.61 418.22L279.39 417.55L283.44 429.59ZM285.34 429.01L282.02 416.76L283.87 416.32L286.31 428.79ZM288.27 428.46L286.58 415.88L288.47 415.69L289.26 428.37ZM291.25 428.3L291.21 415.6L293.11 415.66L292.25 428.33ZM294.22 428.53L295.84 415.93L297.72 416.24L295.21 428.69ZM297.14 429.14L300.39 416.87L302.21 417.42L298.1 429.43ZM299.95 430.13L304.78 418.38L306.51 419.17L300.86 430.54ZM302.61 431.48L308.93 420.46L310.55 421.47L303.46 432.01ZM305.07 433.16L312.78 423.07L314.25 424.27L305.85 433.8ZM307.3 435.15L316.25 426.15L317.55 427.53L307.98 435.88ZM309.24 437.42L319.29 429.66L320.4 431.2L309.82 438.23ZM310.87 439.91L321.85 433.53L322.74 435.21L311.34 440.8ZM312.16 442.6L323.88 437.71L324.55 439.49L312.51 443.54ZM313.09 445.44L325.34 442.12L325.78 443.97L313.31 446.41ZM313.64 448.37L326.22 446.68L326.41 448.57L313.73 449.36Z" fill="#fff"/><g fill="#fff"><circle cx="298.34" cy="453.07" r="1.0"/><circle cx="296.37" cy="456.47" r="1.0"/><circle cx="292.97" cy="458.44" r="1.0"/><circle cx="289.03" cy="458.44" r="1.0"/><circle cx="285.63" cy="456.47" r="1.0"/><circle cx="283.66" cy="453.07" r="1.0"/><circle cx="283.66" cy="449.13" r="1.0"/><circle cx="285.63" cy="445.73" r="1.0"/><circle cx="289.03" cy="443.76" r="1.0"/><circle cx="292.97" cy="443.76" r="1.0"/><circle cx="296.37" cy="445.73" r="1.0"/><circle cx="298.34" cy="449.13" r="1.0"/></g><circle cx="291" cy="451.1" r="4.4" fill="#fff"/></g><circle cx="291" cy="451.1" r="34.4" fill="none" stroke="#000" stroke-width="2.2"/><circle cx="339.3" cy="502.8" r="31.4" fill="none" stroke="#fff" stroke-width="7.4"/><circle cx="339.3" cy="502.8" r="34.15" fill="none" stroke="#000" stroke-width="1.9"/><circle cx="339.3" cy="502.8" r="28.65" fill="none" stroke="#000" stroke-width="1.9"/><g clip-path="url(#c6)"><circle cx="323.4" cy="587" r="47" fill="#fff"/><path d="M327.4 587L370.4 587M327.39 587.29L370.28 590.35M327.36 587.57L369.92 593.69M327.31 587.85L369.33 596.99M327.24 588.13L368.5 600.24M327.15 588.4L367.44 603.42M327.04 588.66L366.15 606.52M326.91 588.92L364.65 609.52M326.77 589.16L362.94 612.41M326.6 589.4L361.03 615.17M326.42 589.62L358.92 617.78M326.23 589.83L356.63 620.23M326.02 590.02L354.18 622.52M325.8 590.2L351.57 624.63M325.56 590.37L348.81 626.54M325.32 590.51L345.92 628.25M325.06 590.64L342.92 629.75M324.8 590.75L339.82 631.04M324.53 590.84L336.64 632.1M324.25 590.91L333.39 632.93M323.97 590.96L330.09 633.52M323.69 590.99L326.75 633.88M323.4 591L323.4 634M323.11 590.99L320.05 633.88M322.83 590.96L316.71 633.52M322.55 590.91L313.41 632.93M322.27 590.84L310.16 632.1M322 590.75L306.98 631.04M321.74 590.64L303.88 629.75M321.48 590.51L300.88 628.25M321.24 590.37L297.99 626.54M321 590.2L295.23 624.63M320.78 590.02L292.62 622.52M320.57 589.83L290.17 620.23M320.38 589.62L287.88 617.78M320.2 589.4L285.77 615.17M320.03 589.16L283.86 612.41M319.89 588.92L282.15 609.52M319.76 588.66L280.65 606.52M319.65 588.4L279.36 603.42M319.56 588.13L278.3 600.24M319.49 587.85L277.47 596.99M319.44 587.57L276.88 593.69M319.41 587.29L276.52 590.35M319.4 587L276.4 587M319.41 586.71L276.52 583.65M319.44 586.43L276.88 580.31M319.49 586.15L277.47 577.01M319.56 585.87L278.3 573.76M319.65 585.6L279.36 570.58M319.76 585.34L280.65 567.48M319.89 585.08L282.15 564.48M320.03 584.84L283.86 561.59M320.2 584.6L285.77 558.83M320.38 584.38L287.88 556.22M320.57 584.17L290.17 553.77M320.78 583.98L292.62 551.48M321 583.8L295.23 549.37M321.24 583.63L297.99 547.46M321.48 583.49L300.88 545.75M321.74 583.36L303.88 544.25M322 583.25L306.98 542.96M322.27 583.16L310.16 541.9M322.55 583.09L313.41 541.07M322.83 583.04L316.71 540.48M323.11 583.01L320.05 540.12M323.4 583L323.4 540M323.69 583.01L326.75 540.12M323.97 583.04L330.09 540.48M324.25 583.09L333.39 541.07M324.53 583.16L336.64 541.9M324.8 583.25L339.82 542.96M325.06 583.36L342.92 544.25M325.32 583.49L345.92 545.75M325.56 583.63L348.81 547.46M325.8 583.8L351.57 549.37M326.02 583.98L354.18 551.48M326.23 584.17L356.63 553.77M326.42 584.38L358.92 556.22M326.6 584.6L361.03 558.83M326.77 584.84L362.94 561.59M326.91 585.08L364.65 564.48M327.04 585.34L366.15 567.48M327.15 585.6L367.44 570.58M327.24 585.87L368.5 573.76M327.31 586.15L369.33 577.01M327.36 586.43L369.92 580.31M327.39 586.71L370.28 583.65" stroke="#000" stroke-width="0.9" fill="none"/><g stroke="#000" stroke-width="0.8" fill="none"><circle cx="323.4" cy="587" r="12"/><circle cx="323.4" cy="587" r="14.3"/><circle cx="323.4" cy="587" r="16.6"/><circle cx="323.4" cy="587" r="18.9"/><circle cx="323.4" cy="587" r="21.2"/><circle cx="323.4" cy="587" r="23.5"/><circle cx="323.4" cy="587" r="25.8"/><circle cx="323.4" cy="587" r="28.1"/><circle cx="323.4" cy="587" r="30.4"/><circle cx="323.4" cy="587" r="32.7"/><circle cx="323.4" cy="587" r="35"/><circle cx="323.4" cy="587" r="37.3"/><circle cx="323.4" cy="587" r="39.6"/><circle cx="323.4" cy="587" r="41.9"/><circle cx="323.4" cy="587" r="44.2"/><circle cx="323.4" cy="587" r="46.5"/></g><circle cx="323.4" cy="587" r="16" fill="url(#rg)"/><circle cx="323.4" cy="587" r="4.5" fill="#fff"/></g><circle cx="323.4" cy="587" r="45.9" fill="none" stroke="#000" stroke-width="2.2"/><g clip-path="url(#c7)"><circle cx="290.8" cy="664.6" r="35.5" fill="#fff"/><g stroke="#000" stroke-width="0.85" fill="none"><circle cx="324.8" cy="664.6" r="34.83"/><circle cx="324.28" cy="670.5" r="34.83"/><circle cx="322.75" cy="676.23" r="34.83"/><circle cx="320.24" cy="681.6" r="34.83"/><circle cx="316.85" cy="686.45" r="34.83"/><circle cx="312.65" cy="690.65" r="34.83"/><circle cx="307.8" cy="694.04" r="34.83"/><circle cx="302.43" cy="696.55" r="34.83"/><circle cx="296.7" cy="698.08" r="34.83"/><circle cx="290.8" cy="698.6" r="34.83"/><circle cx="284.9" cy="698.08" r="34.83"/><circle cx="279.17" cy="696.55" r="34.83"/><circle cx="273.8" cy="694.04" r="34.83"/><circle cx="268.95" cy="690.65" r="34.83"/><circle cx="264.75" cy="686.45" r="34.83"/><circle cx="261.36" cy="681.6" r="34.83"/><circle cx="258.85" cy="676.23" r="34.83"/><circle cx="257.32" cy="670.5" r="34.83"/><circle cx="256.8" cy="664.6" r="34.83"/><circle cx="257.32" cy="658.7" r="34.83"/><circle cx="258.85" cy="652.97" r="34.83"/><circle cx="261.36" cy="647.6" r="34.83"/><circle cx="264.75" cy="642.75" r="34.83"/><circle cx="268.95" cy="638.55" r="34.83"/><circle cx="273.8" cy="635.16" r="34.83"/><circle cx="279.17" cy="632.65" r="34.83"/><circle cx="284.9" cy="631.12" r="34.83"/><circle cx="290.8" cy="630.6" r="34.83"/><circle cx="296.7" cy="631.12" r="34.83"/><circle cx="302.43" cy="632.65" r="34.83"/><circle cx="307.8" cy="635.16" r="34.83"/><circle cx="312.65" cy="638.55" r="34.83"/><circle cx="316.85" cy="642.75" r="34.83"/><circle cx="320.24" cy="647.6" r="34.83"/><circle cx="322.75" cy="652.97" r="34.83"/><circle cx="324.28" cy="658.7" r="34.83"/></g><circle cx="290.8" cy="664.6" r="7" fill="none" stroke="#666" stroke-width="4"/><circle cx="290.8" cy="664.6" r="4.5" fill="#fff" stroke="#000" stroke-width="1.1"/></g><circle cx="290.8" cy="664.6" r="34.4" fill="none" stroke="#000" stroke-width="2.2"/><circle cx="322" cy="728.1" r="31.7" fill="none" stroke="#fff" stroke-width="6.4"/><circle cx="322" cy="728.1" r="33.95" fill="none" stroke="#000" stroke-width="1.9"/><circle cx="322" cy="728.1" r="29.45" fill="none" stroke="#000" stroke-width="1.9"/><circle cx="351.2" cy="784.3" r="23.85" fill="none" stroke="#fff" stroke-width="5.7"/><circle cx="351.2" cy="784.3" r="25.75" fill="none" stroke="#000" stroke-width="1.9"/><circle cx="351.2" cy="784.3" r="21.95" fill="none" stroke="#000" stroke-width="1.9"/><g clip-path="url(#c8)"><circle cx="314.2" cy="835" r="35.6" fill="#fff"/><path d="M279.16 823.86l2.58 2.78M280.24 825.16l0.42 3.99M279.13 827.03l0.77 3.17M280.81 829.88l-0.21 3.64M282.6 831.67l-2.9 1.23M278.13 833.44l2.83 3.11M280.01 836.19l0.82 3.46M282.05 837.74l-4.21 2.2M281.13 839.61l-3.82 2.24M281.45 840.3l-3.28 3.47M282.34 843.4l-3.68 1.47M284.96 820.33l-3.77 0.72M283.58 821.54l-2.7 2.07M282.28 822l-0.26 4.13M284.51 827.11l-3.98 0.79M282.3 826.98l-1.8 4.38M281.15 831.15l3.1 1.4M283.96 832.23l-2.66 3.26M279.51 834.38l4.86 0.89M283.96 834.99l-3.85 2.37M281.53 836.93l1.57 4.38M283.08 839.17l-2.19 4.3M283.69 840.95l-1.71 4M284.53 842.83l-2.7 3.41M280.87 845.07l3.46 3.47M279.45 848.11l4.22 1.95M281.33 816.6l4.51 0.65M285.36 818.08l-3.27 1.55M284.76 819.61l-2.02 3.85M282.92 820.73l2.18 4.21M287.22 823.87l-4.06 1.05M283.16 826.07l3.16 2.43M281.66 828.12l4.8 0.19M283.4 830.08l2.87 1.94M283.68 830.85l0.69 4.9M281.68 835.11l4.58 0.31M286.94 835.83l-4.1 2.82M285.53 836.87l-1.08 3.32M284 839.44l0.52 4.57M283.26 841.57l0.74 4.04M283.33 842.96l1.38 2.95M282.42 845.76l2.13 3.89M282.65 847.52l2.04 4.48M286.72 849.06l-3.4 2.75M284.25 851.16l0.88 4.29M285.39 852.67l-0.51 4.58M287.52 811.54l-2.04 2.77M287.46 814.37l-1.69 2.63M286.53 814.74l0.82 4.53M283.84 819.28l3.44 0.76M283.72 820.99l4.92 0.62M287.32 821.45l-0.62 3.37M284.76 824.17l0.96 3.09M285.49 825.29l0.08 4.81M288.06 829.16l-3.79 0.24M288.02 829.58l-2.86 3.21M283.19 832.45l4.06 0.2M283.95 833.54l2.93 2.89M285.95 835.04l0.27 3.05M286.59 837.17l-0.89 3.47M284.33 839.35l1.98 4.11M284.52 841.47l3.72 1.11M286.87 843.91l-3.19 0.27M286.34 845.84l0.56 3.62M286.23 847.01l-1.28 3.47M284 850l4.49 1.27M286.82 852.07l-3.14 3.52M287.83 854.21l-2.58 1.55M286.79 810.59l2.69 2.99M288.39 813.57l-1.86 3.25M287.26 815.22l2.33 3.76M286.4 819.26l3.65 1.22M289.09 819.97l-2.03 3.73M288.71 821.41l-0.61 3.91M286.51 823.34l3.01 1.45M289.34 825.82l-4.08 2.39M288.05 827.31l-1.66 2.79M290.99 830.06l-4.08 2.33M287.41 833.68l3.1 0.49M286.14 833.53l3.1 2.37M289.71 835.27l-4.32 1.53M289.34 837.12l-1.4 3.97M290.43 841l-3.83 1.75M286.63 841.72l2.61 3.97M290.34 843.88l-3.3 2.66M286.87 846.71l4.09 2.43M290.37 847.48l-3.5 3.43M285.44 849.81l3.73 2.83M287.18 852.59l3.1 1.42M287.04 853.43l3.69 2.33M290.01 854.47l-3.37 3.41M289.89 857.08l-3.18 2.35M289.9 810.05l-0.57 3.8M287.88 812.17l3.9 1.16M291.66 813.97l-1.86 4.05M291.82 816.25l-2.21 3.02M288.17 817.3l3.06 3.46M291.76 820.09l-2.94 1.39M291.3 820.28l-0.51 4.47M292.88 824.62l-3.94 2.68M292.23 825.3l-2.58 2.03M288.16 826.07l2.72 4.08M291.74 828.88l-3.32 3.6M289.29 830.78l0.71 4.61M291.82 833.61l-2.38 4.37M286.84 836.64l4.84 0.06M292 837.44l-3.58 2.99M290.12 838.87l-0.2 4.63M290.7 841.05l-2.47 2.03M288.78 844.12l3.4 2.44M291.36 845.33l-3.31 1.73M287.39 847.59l3.72 1.65M290.65 848.18l-2.13 4.51M287.92 851.93l2.9 2.98M289.29 853.49l3.77 1.84M289.41 856.54l3.26 0.34M289.04 857.6l1.27 3.59M291.7 858.89l-2.82 3.85M289.63 807l3.99 1.95M292.01 808.15l-0.9 3.58M291.97 810.29l0.1 3.14M292.28 811.29l0.34 4.96M294.01 814.98l-3.41 1.51M294.93 815.71l-4.83 1.05M292.59 817.49l0.33 3.8M292.45 819.77l1.15 3.1M291.73 820.93l0.9 4.5M294.26 823.25l-2.26 3.06M289.87 825.93l3.76 2.27M292.04 827.32l1.94 2.37M290.87 830.61l2.74 2.55M291.24 830.68l1.59 2.63M293.28 833.27l-2.89 1.88M291.16 836.66l2.16 2.2M294.86 837.67l-4.11 2.22M289.38 840.14l3.86 1.01M293.54 841.26l-2.28 3.99M291.99 842.72l0.29 4.37M294.09 846.93l-3.87 1.15M289.92 847.74l4.39 0.81M294.05 850.55l-3.32 0.04M290.31 852.95l3.54 0.64M292.69 853.27l0.88 3.56M294.29 855.82l-2.52 2.18M293.47 857.04l-2.2 2.87M291.13 860.3l2.27 3.27M293.74 805.52l2.64 2.55M295.43 808.13l-3.72 0.88M296.36 809.85l-3.37 3.29M294.72 811.41l-0.91 3.31M294.47 812.95l-1.55 2.71M293.94 815.16l2.18 3.33M295.72 817.85l-3.33 0.92M293.2 819.7l2.19 4M295.61 821.7l-1.26 3.23M293.35 823.83l3.57 1.9M294 825.01l2.07 2.53M294.09 826.93l-1.03 4.52M296.64 830.29l-4.19 2.39M296.7 832.4l-3.57 1.47M292.38 833.2l2.32 2.81M295.33 835.49l-1.65 4.49M293.01 835.71l1.23 4.84M292.25 840l3.89 0.94M295.76 843.12l-3.23 0.61M293.13 844.61l3.16 2.1M292.42 844.99l3.02 2.18M297.29 848.29l-4.23 1.31M293.97 848.89l-0.05 4.72M296.73 852.42l-4.82 0.55M296.77 853.58l-4.03 2.02M293.32 854.66l0.7 3.41M294.38 857.77l1.36 2.73M294.39 859.76l1.27 3.65M292.63 861.96l3.96 1.15M298.62 802.9l-2.98 1.76M298.5 804.39l-2.71 4.2M296.33 806.58l0.95 3.56M294.48 811.65l3.47 0.57M298.97 811.78l-3.97 2.08M293.88 815.58l4.41 0.35M297.45 817.3l-3.5 1.35M298.32 818.84l-3.39 0.2M298.91 821.9l-4.22 0.02M297.21 821.59l-0.17 3.46M294.13 823.98l2.41 1.89M294.7 825.92l3.49 3.21M297.97 827.69l-2.8 2.29M293.24 830.67l4.83 0.9M299.32 832.25l-4.25 0.7M294.05 834.24l2.67 2.32M294.63 836.08l2.06 3.61M298.21 838.46l-3.45 1.56M299.02 840.37l-4.02 2.84M293.55 842.64l3.38 2.36M294.57 844.03l1.42 2.79M298.81 846.89l-3.29 2.01M293.57 849.5l4.4 0.52M295.27 850.06l3.57 2.07M294.95 851.68l3.04 2.55M294.75 854.71l3.56 0.96M295.35 855.2l2.5 3.9M297.54 857.15l-4.09 2.1M296.37 858.74l-1.68 3.19M297.2 861.21l-2.63 2.2M296.51 863.62l0.28 3.22M296.58 803.13l3.21 1.3M296.11 804.71l3.08 0.92M295.94 805.49l3.91 3.02M295.39 808.93l3.72 1.16M297.25 809.45l1.95 2.68M301.17 813.67l-4.89 0.49M295.19 814.44l4.27 2.04M296.18 815.53l3.25 2.95M297.33 817.21l2.91 3.2M297.41 819.61l3.06 3.81M297.85 821.23l2.45 3.03M296.71 823.76l4.48 1.55M296.27 825.35l3.66 2.28M298.11 828l-1.3 2.84M298.44 829.16l-1.57 2.79M297.61 831.04l1.58 2.9M298.98 832.66l-0.28 3.71M300.51 835.99l-4.19 1.62M298.67 836.99l-1.44 2.86M298.65 840.08l0.58 3.28M298.15 841.03l-1.13 3.87M296.2 843.09l3.24 3.47M298.65 843.69l0.42 4.63M299.73 847.31l-1.46 2.72M299.67 848.3l-2.35 3.6M299.46 852.73l-3.04 0.2M300.33 853.58l-4.36 2.41M299.17 855.31l-2.43 4.35M299.86 857.25l-1.6 3.07M295.65 861.62l3.87 0.37M298.95 861l-2.69 3.2M297.22 862.82l0.48 3.38M301.75 803.16l-4.34 0.96M300.21 802.9l0.03 3.47M299.53 805.41l1.11 4.66M301.19 806.8l-1.83 2.46M298.13 810.38l3.56 1.06M297.04 812.85l4.88 0.06M302.19 813.65l-2.82 1.17M297.86 815.86l2.8 4.08M299.69 818.14l-0.93 3.23M302.33 819.51l-4.03 1.91M298.44 823.59l3.88 0.65M302.47 824.62l-3.14 0.55M300.05 825.99l-1.32 3.68M298.37 827.59l3.55 1.42M299.51 827.92l0.23 4.67M302.77 831.97l-4.2 0.88M298.29 833.95l3.56 0.52M299.73 835.46l0.33 3.47M299.64 838.48l2.35 2.54M301.83 839.98l-4.38 1.54M297.75 840.87l3.39 3.29M302.51 845.12l-4.76 0.23M301.63 845.28l-1.27 2.86M300.73 846.38l-0.66 4.06M298.62 850.62l3.77 0.69M298.63 852.45l3.07 0.02M300.67 852.86l-1.85 4.53M301.66 856.31l-3.81 0.28M300.42 858.06l-0.42 3.53M299.03 860.23l2.91 1.65M300.58 861.18l-0.28 3.41M299.48 863.39l2.87 4.05M301.22 865.68l-1.91 3.31M301.54 800.55l2.85 2.4M301.16 801.81l0.73 4.21M300.76 804.96l4.63 0.54M302.87 805.18l-1.31 2.96M300.92 807.23l0.82 3.33M300.73 809.65l3.13 1.14M303.51 812.54l-2.91 1.11M300.84 813.85l2.4 3.73M300.9 816.63l3.42 2.74M302.82 815.94l-1.38 4.32M301.16 819.57l2 2.98M301.61 820.13l-0.74 4.03M303.37 824.48l-2.49 1.78M301.83 824.28l-0.04 4.15M302.1 827.88l1.21 2.99M299.97 830.42l3.3 1.07M301.65 831.21l2.4 2.91M302.94 834.1l-3.04 1.05M301.85 835.14l0.4 4.14M303.55 837.83l-1.43 3M299.86 841.25l3.67 1.16M301.66 840.73l0.32 4.66M301.28 844.98l3.35 0.88M302.24 844.4l1.4 3.57M301.27 847.57l0.24 4.62M305.04 850.98l-4.09 1.15M302.12 851.94l1.97 3.47M305.13 854.09l-4.81 1.26M301.24 855.14l1.38 3.38M304.75 858.71l-3.57 0.95M304.52 860.4l-3.3 0.49M300.65 862.56l3.39 0.97M303.25 864.12l-2.32 3.32M304.13 865.4l-2.86 3.31M306.2 799.95l-2.77 3.65M303.54 802.41l0.54 3.16M304.83 803.56l-2.39 3.89M305.97 805.05l-3.7 2.68M304.23 807.36l0.37 4.02M303.77 809.37l1.94 2.51M305.36 811.78l-3.58 1.07M305.02 813.86l-1.68 2.98M301.82 816.62l3.63 2.63M304.38 816.53l0.91 3M305.07 819.15l-1.14 4.27M302.66 822.44l1.81 2.94M302.83 825.92l3.57 0.02M301.88 825.73l3.88 1.04M303.53 827.14l1.07 3.77M306.69 829.5l-3.75 1.52M306.35 831.94l-3.45 0.35M304.28 833.12l0.17 3.98M305.71 836.34l-3.41 1.6M306.3 837.82l-2.94 1.83M306.16 839.68l-2.18 3.85M302.87 842.02l3.42 0.8M307.43 845.07l-4.65 0.97M303.7 844.37l-0.77 4.5M304.24 846.98l1.1 4.14M304.83 849.27l-0.29 3.13M305.45 850.41l-0.87 4.16M302.36 853.72l2.63 2.94M302.43 856.53l2.75 1.94M306.34 857.23l-4.25 1.78M302.77 859.68l3.28 2.24M304.62 860.83l0.05 4.81M307.02 865.05l-4.26 0.77M301.8 865.79l3.5 1.98M305.64 867.38l-2.06 2.96M308.86 801.06l-3.79 0.33M304.96 802.15l3.37 0.59M304.34 802.49l3.45 3.12M307.66 806.94l-4.19 0.47M308.59 807l-3.29 3.06M306.56 809.11l0.76 3.6M305.6 810.46l2.69 3.11M309.03 815.57l-4.7 0.29M307.75 816.18l-2.21 2.13M306.2 817.03l-1.69 4.53M304.11 820.2l3.66 1.62M304.42 822.76l3.64 2.12M304.66 823.79l1.23 3.63M307.78 825.23l-4.58 1.62M305.89 827.19l-0.99 2.98M307.14 828.88l-2.71 2.98M305.28 832.36l3.14 3.06M303.77 833.71l3.57 1.08M304.86 835.48l1.87 2.46M305.01 837.58l2.47 3.81M303.27 840.27l4.86 0.66M306.39 840.96l-1.69 4.01M304.93 843.51l2.63 1.45M306.29 845.55l-1.77 3.57M306.62 847.25l0.35 3.32M306.32 848.2l-0.61 3.92M305.2 852.51l2.98 2.1M306.01 853.34l0.32 4.81M304.03 856.51l3.98 1.92M304.08 857.29l3.3 2.05M303.05 861.47l4.43 0.73M303.88 861.47l3.5 1.09M305.09 862.43l1.95 4.57M306.39 864.26l-0.95 3.9M303.68 867.17l3.76 2.89M307.45 799.05l1.23 3.53M309.43 800.69l-3.23 3.02M307.54 802.44l1.44 3.49M308.16 805.5l-0.24 3.07M309.89 806.99l-4.3 2.43M306.18 810.8l2.34 2.08M310.16 811.92l-2.87 1.97M309.82 814.22l-3.05 0.35M307.8 815.78l0.4 3.23M307.75 816.76l-0.04 4.57M309.09 819.1l-1.47 3.94M308.53 822.36l0.31 3.22M308.32 821.9l-2.02 4.45M307.06 826.57l3.79 2.42M310.55 826.55l-3.1 3.43M306.72 829.11l1.71 4.47M306.03 831.67l3.04 3.63M309.38 833.62l-4.17 2.01M307.22 834.98l2.96 2.36M306.96 839.31l4.26 1.12M307.04 839.94l0.81 2.95M309.63 841.06l-4.09 1.95M306.32 844.44l2.83 2.81M305.65 845.62l3.83 2.55M307.58 847.83l1.08 3.5M305.86 849.96l3.76 0.38M305.52 852.47l3.66 2.08M306.31 853.15l3.45 2.41M310.84 856.6l-3.41 1.07M309.53 858.56l-3.3 1.33M307.56 860.51l3 2.91M308.02 860.78l-0.66 3.04M311.23 863.8l-4.43 1.31M310.88 866.25l-3.47 1.2M305.2 868.76l4.58 0.61M308.02 801.12l4.65 0.77M308.75 801.86l3.7 0.54M307.86 803.59l3.98 1.81M310.84 805.42l-3.09 1.54M312.09 807.9l-1.79 2.57M309.08 809.02l3.83 2.33M309.01 810.62l3.03 3.85M309.02 812.8l0.81 3.67M309.19 816l3.4 2.23M312.32 818.07l-2.68 1.91M310.04 819.82l-1.64 2.97M308.9 821.73l2.75 1.52M312.02 824.38l-4.33 1.56M311.34 827.27l-3.95 0.93M308.67 828.41l3.14 1.69M309.6 828.59l1.9 4.2M310.29 831.18l0.34 3.86M310.35 833.99l-0.15 3.04M309.94 834.83l-0.75 3.72M310.67 838.57l-2.88 1.25M311.03 840.65l-2.32 2.4M310.46 841.93l-1.88 3.45M309.45 843.36l1.99 4M311.67 845.24l-2.47 4.19M308.14 847.84l3.72 3.2M312.73 851.24l-4.21 0.7M307.59 852.77l3.84 2.06M311.48 854.59l-2.97 2.3M308.08 857.09l2.91 1.67M307.26 858.02l4.25 0.32M311.17 859.27l-2.02 4.49M312.64 862.76l-3.02 0.88M308.74 865.14l3.3 1.35M311.67 864.29l-1.82 3.88M307.41 867.05l3.61 2.06M309.81 800.87l2.99 1.96M311.19 802.49l3.73 1.17M313.1 802.55l-1.69 3.45M312.14 804.63l-1.42 4.78M309.91 809.21l4.77 1.21M312.92 808.13l-0.94 4.81M313.99 811.13l-2.44 2M310.41 815.08l3.12 0.43M311.51 815.61l1.78 3.84M313.94 818.02l-2.88 2.7M311.84 819.36l0.65 3.44M314.79 822.44l-3.99 1.84M313.25 823l-3.29 3.36M311.19 826.28l2.67 2.91M312.14 826.15l0.42 4.61M314.34 830.62l-4 1.91M311.71 831.91l2.45 2.09M313.99 833.15l-4.12 2.42M310.84 834.47l1.89 3.49M314.03 838.37l-3.1 2.81M311 840.43l2.33 2.14M311.87 840.73l1.57 4.23M312.5 843.69l1.36 3.83M310.72 845.72l1.26 3.17M314.95 849.5l-4.4 0.89M314.12 849.16l-2.89 1.96M311.4 851.43l0.94 2.93M310.97 853.08l2.18 2.89M312.59 854.16l-0.28 4.21M313.61 856.68l-1.5 4.76M310.52 860.59l2.7 1.32M314.66 861.5l-4.26 1.29M311.53 863.25l0.72 3.46M311.45 866.1l1.06 3.38M312.25 868.18l-1.61 3.03M311.55 868.53l1.75 3.15M315.62 800.79l-2.31 2.25M315.49 801.25l-0.74 4.54M311.99 804.32l3.89 2.07M311.94 807.01l2.81 1.7M312.01 808.49l3.76 2.33M313.67 809.67l1.59 2.87M315.92 812.76l-2.9 1.17M311.84 814.67l3.39 2.25M313.85 814.91l0.77 3.98M315.03 816.76l0.04 4.94M314.44 817.89l0.49 4.23M314.45 821.66l0.02 3.77M311.6 823.97l4.19 1.25M314.76 824.09l-0.66 4.52M312.91 826.01l2.3 4.08M315.89 828.76l-2.85 2.94M315.45 833.11l-2.97 1.62M312.96 834.77l4.34 2.35M312.94 835.62l3.54 1.83M315.32 837.2l-3.48 2.92M316.66 839.8l-3.8 1.72M315.53 840.83l-2.66 2.81M312.36 843.71l2.55 3.12M314.01 845.08l-0.57 3.1M314.27 847.52l-1.35 3.62M313.82 849.94l2.36 1.94M316.42 852.94l-4.66 1M316.73 854.72l-3.37 2.02M313.44 855.94l3.31 1.61M311.33 857.85l4.14 2.39M314.06 859.02l-1.63 4.29M317.34 862.99l-4.51 1.41M314.71 862.88l-0.56 4.73M312.34 864.96l4.13 2.36M315.77 868.87l-3.56 1.74M312.26 868.16l2.8 3.84M317.83 801.06l-3.4 0.03M315.15 803.19l3.38 0.95M318.38 804.74l-2.98 1.42M316.88 805.21l0.13 3.14M316.59 806.4l-0.32 4.44M317.4 808.94l-0.8 3.04M317.53 812.27l-2.81 2.1M315.13 812.43l0.53 3.24M316.95 816.42l-3.4 0.66M317.07 818.33l-3.7 0.21M314.55 819.52l2.35 4.02M315.85 820.12l-0.38 3.85M317.05 823.03l-3.34 2.58M317.2 825.68l-2.72 1.84M314.82 827.6l2.3 2.52M313.85 830.05l3.6 0.69M315.86 832.11l2.67 1.98M314.82 833.41l4.01 1.42M314.13 835.16l2.31 2.13M313.93 837.98l2.86 2.54M316.71 839.76l-0.75 3.71M316.75 840.92l-2.7 4.02M317.38 842.78l-3.56 2.82M314.6 844.5l1.93 4.14M317.58 848.95l-3.1 0.49M317.21 848.74l-0.29 3.24M315.12 851.89l2.56 2.93M317.51 853.34l-0.76 4.04M315.82 855.24l1.35 3.45M315.3 856.79l2.04 3.83M314.94 858.78l3.64 2.52M317.25 862.59l-2.92 2.27M318.81 864.36l-3.62 1.1M316.2 865.11l-1.99 2.48M317.1 868.53l-3.71 0.95M316.99 799.77l2.07 3.01M316.6 801.45l1.91 2.37M318.54 803.28l0.39 3.99M317.99 805.65l2.16 4.09M319.01 808.63l-3.26 0.86M317.41 809.14l0.87 4.73M320.05 812.11l-4.24 1.7M318.88 812.69l-0.44 4.81M317.75 815.86l2.75 2.15M319.81 818.09l-3.95 2.37M318.89 819.67l-2.87 2.65M320.11 822.85l-4.64 0.39M315.79 823.29l4.14 2.07M317.65 824.19l-0.9 3.97M317.32 828.41l3.38 1.01M316.8 829.21l1.51 2.98M315.81 831.77l4.48 1.18M317.88 833.79l-1.02 3.42M317.87 835.67l0.43 3.94M317.86 836.82l1.98 4.46M318.5 838.32l-0.76 3.79M321.1 842.11l-4.15 0.19M320.03 844.41l-4.18 0.58M318.4 845.11l0.72 4.41M319.85 849.34l-2.81 1.23M316.93 851.22l3.18 1.45M319.4 852.21l-3.08 1.34M316.28 855.52l4.38 0.95M318.28 855.58l-1.8 3.21M319.78 858.21l-4.46 0.6M316.35 858.42l2.82 3.5M318.64 861.26l-2.46 2.78M318.71 865.18l-2.89 0.97M316.11 865.06l3.51 2.29M318.6 866.18l-1.72 4.16M318.12 801.38l3.29 1.11M322.36 800.21l-2.95 3.9M319.86 803.26l-0.41 3.21M320.65 805l-2.24 3.96M321.61 807.49l-2.68 3.1M318.18 811.11l3.86 0.34M321.88 812.29l-3.08 2.97M319.32 813.87l0.04 3.17M319.47 815.89l1.94 3.79M320.53 815.99l-1.43 4.24M321.9 819.23l-2.14 4.02M318.98 821.81l2.12 2.89M320.61 823.39l-0.97 4.74M318.31 825.75l2.5 3.24M319.26 827.8l3.56 2.63M322.7 829.91l-4.01 2.42M316.87 832.21l4.87 0.52M319.67 832.34l-0.58 4.33M321.84 835.95l-2.17 3.56M321.36 837.25l-3.9 2.7M317.8 840.3l4.11 1.66M319.96 841.59l2 3.32M317.74 844.44l3.43 2.36M323.16 845.75l-4.38 1.08M318.76 847.25l2.25 3.75M320.53 848.44l-0.43 4.17M320.82 851.59l-0.81 3.48M320.46 853.49l0.37 4.83M322.7 856.36l-4.71 0.73M320.64 857.19l-1.39 2.93M319.09 858.21l0.26 4.19M319.7 860.36l0.57 3.31M318.6 863.55l1.74 3.82M322.22 865.36l-2.51 2.48M318.16 868.42l4.56 0.67M322.74 799.95l0.09 3.13M323.94 802.07l-3.84 0.96M323.09 803.31l-2.1 2.32M321.23 804.81l2.42 3.89M323.9 806.5l-2.13 3.73M320.74 810.5l2.62 2.28M322.97 811.8l-2.6 3.72M322.34 812.26l0.2 4.38M320.77 815.78l3.92 0.75M322.16 816.82l1.31 4.18M320.27 819.17l2.38 4.01M320.61 822.06l4.84 0.64M323.76 825.82l-3.77 0.17M321.76 824.51l1.21 4.1M323.55 827.5l-1.78 3.42M320.75 830.48l2.35 2.1M322.07 831.86l1.79 2.68M323.2 834.45l-3.24 2.02M319.93 837.17l4.36 0.55M322.84 836.58l0.16 3.31M320.46 838.72l1.61 3.75M321.02 841.34l0.83 4.36M320.98 842.48l1.54 3.61M323.31 845.36l-1.97 3.76M323.39 846.48l-1.15 3.62M323.56 850.97l-3.64 1.77M319.96 852.4l3.3 1.49M324.81 853.64l-4.39 2.18M321.62 855.63l1.44 3.99M321.46 856.75l1.48 4.63M323.97 858.93l-2.64 2.38M321.42 862.91l3.28 0.3M320.86 863.26l0.79 4.25M320.49 867.02l3.06 0.92M322.43 867.2l-1.27 3.68M325.32 799.76l-4.01 2.79M323.78 801.02l0.27 4.35M322.7 805.5l3.81 0.79M323.33 805.23l1.11 4.08M324.94 807.37l-0.53 3.39M321.15 810.55l4.18 0.54M323.45 810.34l1.77 3.8M325.69 814.06l-2.98 0.69M323.46 815.52l2.23 2.94M322.35 818.39l2.64 2.13M323.63 818.43l0.51 4.09M323.93 820.17l-0.1 4.28M323.39 823.18l-0.26 3.12M325.38 826.75l-3.84 1.29M326.16 828.64l-3.42 1.74M325.7 828.19l-2.57 3.85M323.26 830.08l1.84 4.22M325.89 833.73l-2.11 2.23M322.51 834.46l1.84 4.2M324.61 836.49l-0.95 4.28M326.1 839.36l-3.22 3.5M321.67 841.29l3.95 2.67M326.91 843.48l-4.07 2.88M322.79 845.69l2.83 1.12M325.28 848.12l-1.24 3.74M324.12 849.03l0.68 4.38M323.47 853.04l3.05 0.9M326.08 853.75l-2.88 1.44M324.36 853.65l0.39 4.88M323.04 856.47l2.78 3.25M323.36 859.24l3.34 1.69M323.31 862.3l2.65 1.45M323.78 862.66l2.61 2.93M326.63 865.55l-3.49 2.21M324.29 866l0.59 4.55M326.5 801.59l-2.52 2.16M328.26 804.93l-3.39 0.62M326.04 804.93l-1.14 2.84M325.72 808.15l0.26 3.07M322.84 811.72l4.83 0.2M325.78 812.27l2.4 3.17M323.94 814.51l4.24 0.98M325.67 815.97l1.57 3.97M327.34 818.53l-4.02 0.75M324.19 819.97l2.04 4M324.18 822.76l3.33 2.46M327.37 824.19l-3.24 0.24M329.54 826.06l-4.86 0.13M327.26 826.8l-1.85 3.05M325.82 829.09l-1.09 4.79M323.87 832.79l3.15 0.46M324.64 832.06l1.69 4.12M328.28 836.94l-3.88 1.33M329.2 837.04l-4.23 2.28M328.56 840.05l-4.18 2.19M326.75 840.36l-1.69 3.44M326.98 842.71l-1.33 3.88M327.59 845.99l-2.61 1.8M323.87 847.69l3.82 2.58M324.82 851.21l4.59 1.2M324.57 851.94l2.2 3.67M325.98 853.48l0.76 3.23M327.71 855.42l-1.25 3.18M324.39 859.36l3.86 0.33M328.58 859.94l-2.85 1.33M326.55 861.45l-1 4.03M323.06 864.66l4.45 0.66M324.83 864.07l1.58 4.14M328.34 800.47l1.03 4.77M330.65 803.78l-4.03 0.46M328.61 804.84l-2.79 2.55M329.37 806.61l-1.85 2.88M326.88 809.29l3.74 2.2M330.21 810.87l-2.2 4.23M330.99 813.84l-3.79 2.18M327.55 816.03l0.47 3.46M326.29 818.17l2.35 3.33M326.12 818.83l2.94 3.78M328.2 821.69l0.1 3.94M326.99 823.45l2.76 2.06M325.41 825.85l4.59 1.91M326.63 827.11l2.4 4.35M327.5 829.05l-0.44 3.24M330.02 830.63l-2.63 4.04M327.92 834.05l1.04 3.43M328.42 834.38l0.88 4.12M325.64 837.93l3.87 0.23M330 839.36l-1.91 3.81M329.89 841.53l-2.09 2.77M330.36 844.69l-3.13 0.85M327.2 846.34l3.61 1.53M327.6 847.37l2.7 2.28M328.66 847.95l-1.29 4.33M330.81 852.31l-3.58 0.55M327.91 853.51l-0.39 4.84M324.95 857.85l4.66 0.07M329.5 858.44l-3.21 1.38M330.51 860.7l-3.2 0.14M329.3 862.13l-3.04 1.78M325.21 865.23l4.06 0.5M329.03 866.4l-3.33 3.15M328.49 803.67l3.45 0.06M328.56 804.49l3.06 2.01M331.37 805.56l-2.87 2.07M329.35 806.66l1.57 3.29M329.71 809.18l-0.48 3.24M328.46 812.55l4.23 2.31M329.62 813.38l0.31 4.95M331.88 815.74l-3.62 1.5M330.21 816.72l-1.39 4.69M330.39 819.69l-1.42 2.9M331.87 821.42l-1.57 3.1M328.93 823.08l2.88 2.15M332.52 825.69l-3.62 2.35M332 826.4l-1.95 4.09M327.91 829.9l3.54 1.27M327.64 832.62l3.56 0.1M330.91 833.72l-3.13 2.53M329.92 835.67l0.39 3.09M327.8 838.75l3.81 0.96M327.34 840.43l4.31 1.3M330.02 841.53l1.66 2.94M331.64 844.45l-3.92 2.39M331.73 844.19l-2.1 4.19M329.65 846.59l-0.64 4.83M328.72 850.45l3.07 1.18M329.72 850.88l1.37 4.29M330.13 853.48l-0.77 4.27M328.45 857.82l3.36 0.21M331.68 856.64l-3.48 3.04M328.45 859.81l4.2 1.3M329.48 861.09l3.14 2.76M328.64 863.86l2.72 2.69M327.79 864.96l3.04 2.13M331.04 804.7l3.64 2.14M331.09 805.42l1.94 3.35M330.72 805.62l1.01 4.79M331.77 808.71l0.84 3.42M330.75 812.19l2.25 3.39M329.96 814.8l3.69 0.75M334.31 814.62l-3.58 3.47M333.84 818.41l-3.75 0.75M333.28 818.7l-1.23 3.09M335.38 822.55l-4.82 1.17M331.62 824.28l1.63 3.05M331.1 826.5l2.8 1.9M334.11 827.23l-4.03 2.04M330.17 830.88l3.63 0.38M334.81 832.17l-4.02 2.07M334.27 833.2l-2.56 3.11M332.17 835.01l2 3.11M329.97 837.85l2.54 3.83M333.92 838.65l-2.6 2.87M331.6 841.74l2.37 2.28M331.65 844.56l1.93 2.49M330.26 846.34l3.12 0.25M333.98 848.29l-2.03 3.36M331.75 848.16l0.6 3.89M331.44 851.43l3.02 1.87M332.17 853.3l0.55 4.97M333.82 856.46l-3.75 0.06M334.29 857.35l-2.89 2.35M333.33 860.22l-3.58 0.08M331.53 861.18l0.25 4.11M331.17 863.96l0.58 3.49M332.51 805.68l3.02 1.82M333.94 807.42l2.14 3.31M332.58 809.65l1.96 3.96M333.86 812.12l2.13 2.46M334.5 813.12l-0.27 4.19M334.15 816.37l0.76 3.12M332.92 816.94l1.9 3.8M331.99 821.2l3.35 1.31M334.59 821.11l0.8 3.16M335.01 824.04l-1.87 3.24M333.16 825.88l3.93 2.85M333.51 826.07l-0.04 4.01M334.49 829.68l-2.03 2.61M333.76 831.69l0.25 3.28M333.33 832.24l1.26 4.23M335.64 837.32l-4.76 0.34M332.64 837.23l2.6 1.7M335.03 840.03l-2.98 0.6M332.15 840.93l2.97 3.6M333.59 842.95l-0.6 3.61M332.3 846.01l3.72 1.89M333.05 847.31l2.79 3.77M335.53 848.72l-2.61 3.72M335.19 852.85l-3.43 1.06M331.79 853.44l4.02 2.21M335.69 854.54l-2.97 3.54M331.46 857.92l4.29 1.71M332.34 860.07l3.12 0.04M333.63 862.19l2.39 2.67M334.34 806.93l3.69 2.29M338.91 810.11l-3.92 2.05M335.23 811.62l2.37 2.31M335.62 812.25l1.31 4.07M334.96 815.42l1.45 2.7M336.75 816.12l-2.89 3.86M333.16 819.54l4.3 1.88M335.29 822.19l2.04 3.6M335 823.79l2.19 3.34M335.04 825.23l2.86 2.33M336.42 826.5l-0.86 3.71M337.51 830.65l-2.95 2.58M336.32 831.92l0.23 4.07M336.41 833.28l-1.67 3.03M338.69 835.49l-3.08 1.14M336.55 837.13l-0.85 4.28M335.59 838.58l1.48 3.11M336.55 841.65l-2.64 3.62M334.79 843.93l2.91 3.29M334.46 846.64l2.26 2.51M335.59 848.26l1.15 3.4M337.19 850.37l-2.37 1.87M334.47 853.59l3.87 0.05M337.71 852.61l-2.93 3.46M335.04 856.55l3.23 1.03M334.01 857.34l3.21 1.37M335.77 857.89l0.31 4.61M339.23 808.18l-0.74 3.35M340.1 811.74l-3.73 0.24M335.85 813.08l3.29 0.46M340.16 813.91l-3.55 0.98M339.3 815.77l-2.77 3.62M338.83 817.02l-1.76 4.51M338.9 819.75l0.38 3.28M338.86 822.67l-2.11 2.46M339.42 823.32l-1.43 3.4M338.97 825.73l-3.25 1.38M339.38 827.38l-3.69 1.94M339.43 829.85l-3.26 2.47M337.04 830.31l0.85 4.45M341.56 833.75l-4.86 0.98M338.41 836.23l-0.95 3.22M340.44 838.13l-3.17 0.38M338.54 838.31l-0.76 4.21M337.87 840.31l-1.31 3.38M336.28 844.76l3.29 0.26M340.12 846.87l-3.18 0.66M337.06 848.26l2.87 2.49M337.09 850.24l3.8 2.28M337.26 851.83l0.71 2.97M338.61 852.68l0.26 4.99M336.02 856.16l3.53 3.39M338.93 856.91l-1.83 3.5M339.97 809.47l-1.08 3.72M340.51 811.47l-0.49 3.69M340.09 813.52l-0.49 4.51M338.03 816.47l2.88 2.83M339.22 818.7l1.69 2.56M340.24 819.56l0.89 4.43M340.31 821.34l-1.71 3.41M339.02 823.83l1.09 3.78M341.65 826.19l-2.12 3.54M341.79 828.03l-2.17 3.55M340.86 828.72l-2.08 3.17M337.57 833.7l4.01 0.02M338.34 833.25l3.15 2.19M340.6 834.66l-0.72 3.35M338.63 836.42l2.19 4.11M341.61 840.34l-3.37 0.79M340.6 840.62l-1.68 3.9M338.86 844.4l3.15 3.16M339.64 845.51l2.14 2.74M342.5 848.01l-3.61 1.7M341.66 849.9l-1.4 3.37M338.34 852.27l4.49 1.68M338.27 853.96l4.58 1.36M338.88 856.93l3.93 0.37M337.72 858.52l3.01 2.61M342.61 813.94l0.57 3.68M343.67 816.19l-2.64 3.52M340.29 817.36l2.83 1.73M340.34 820.14l2.45 2.45M342.73 822.52l-2.99 1.39M339.81 825.41l3.21 1.18M340.3 825.02l2.6 3.19M340.24 826.46l2.92 3.48M339.86 831.45l4.11 0.43M342.77 829.9l0.44 4.7M342.84 834.69l-2.27 2.28M343.26 836.81l-3.96 0M343.47 837.79l-3.51 2.36M342.3 839.28l-1.54 4.14M342.48 842.38l-2.51 1.66M340.61 844.28l2.93 2.02M341.88 845.11l-1.16 2.84M339.71 847.08l4.15 2.76M341.15 849.34l0.54 2.99M341.88 850.68l0.32 3.37M343.41 853.97l-3.13 1.66M344.99 814.59l-1.79 2.47M345.86 817.68l-1.97 2.56M346.27 819.8l-2.85 2.33M342.32 821.9l2.98 0.83M346.36 824.58l-4.38 0.49M341.78 825.63l3.83 3.08M345.33 827.38l-3.47 2.05M343.33 830.13l2.6 3.32M346.33 832.76l-4.11 0.86M342.23 835.71l3.61 0.53M346.41 836.71l-3.8 0.71M346.06 837.4l-1.99 3.34M341.76 840.59l3.69 1.49M346.07 842.63l-3.64 0.17M343.02 843.28l3.36 2.48M344.9 844.86l-2.87 2.81M342.87 848.49l1.07 2.86M342.65 849.94l2.57 1.91M347.74 818.56l-3.06 3.13M346.37 821.06l0.83 3.42M346.47 822.67l0.15 3.33M345.29 827.34l3.18 0.71M346.92 826.32l0 4.52M343.54 830.11l4.79 1.35M348 831.07l-2.48 2.84M344.22 832.98l3.54 2.8M346.18 834.73l-1.81 3.83M344.41 837.52l3.22 3.29M346.8 839.6l-2.92 2.44M344.34 841.08l2.12 4.38M346.04 844.48l1.92 2.7M345.9 845.44l1.48 4.73M347.96 849.09l-3.74 0.36M345.47 822.96l3.85 2.96M349.76 826.54l-2.61 2.87M349.27 827.9l-3.44 3.13M346.98 829.69l0.86 3.19M350.38 833.55l-3.29 0.37M349.4 834.8l-3.03 1.78M348.16 834.57l-0.11 3.49M347.44 836.64l1.38 2.73M346.25 840.12l3.03 0.98M349.61 841.16l-2.8 2.99M346.48 843.08l2.83 2.61" stroke="#000" stroke-width="0.85" fill="none"/><circle cx="314.2" cy="835" r="4.3" fill="#fff"/></g><circle cx="314.2" cy="835" r="34.5" fill="none" stroke="#000" stroke-width="2.2"/><path d="M306.5 876V873.5H310V872H331V876Z" fill="#fff" stroke="#000" stroke-width="1.6"/><rect x="253.5" y="889" width="130.5" height="4.2" fill="#333" stroke="#000" stroke-width="1"/><rect x="248.6" y="876.8" width="140" height="13.6" fill="#fff" stroke="#000" stroke-width="2"/><path d="M389.5 887C398 887 401 888 405 893C409 898 411 898.5 416 898.5H524" stroke="#000" stroke-width="4.2" fill="none"/><path d="M389.5 887C398 887 401 888 405 893C409 898 411 898.5 416 898.5H524" stroke="#fff" stroke-width="0.9" fill="none" opacity="0.75"/><rect x="442" y="894.5" width="4.6" height="8" rx="1" fill="#000"/><rect x="502.8" y="894.5" width="4.6" height="8" rx="1" fill="#000"/><path d="M469.5 893.5V889.5Q469.5 888.5 470.5 888.5H479Q480 888.5 480 889.5V893.5" fill="#fff" stroke="#000" stroke-width="1.6"/><rect x="462.5" y="893.5" width="23.5" height="8.8" fill="#fff" stroke="#000" stroke-width="1.8"/><rect x="523.5" y="895.3" width="13.5" height="6.6" fill="#000"/><rect x="530" y="896.8" width="3.4" height="3.6" fill="#fff"/><path d="M537 895.8Q541.5 890.2 546.8 889.8V906.8Q541.5 906.2 537 901.8Z" fill="#fff" stroke="#000" stroke-width="1.9" stroke-linejoin="round"/><path d="M537.5 896.5H546M537.5 901H546" stroke="#000" stroke-width="1.2"/><path d="M546.5 894.2H556M546.5 902.8H556" stroke="#000" stroke-width="2.4"/><path d="M646.1 874V127.1H655.3V874" fill="#fff" stroke="#000" stroke-width="1.8"/><rect x="645" y="468.2" width="11.6" height="61.5" fill="#fff" stroke="#000" stroke-width="1.9"/><rect x="659.4" y="98.9" width="3.5" height="224.8" rx="1.75" fill="#fff" stroke="#000" stroke-width="1.8"/><rect x="677.1" y="98.9" width="3.9" height="224.8" rx="1.75" fill="#fff" stroke="#000" stroke-width="1.8"/><path d="M658.5 168H663.8M676.2 168H681.8M658.5 232.5H663.8M676.2 232.5H681.8" stroke="#000" stroke-width="1.6"/><rect x="659.4" y="369.6" width="3.5" height="116" rx="1.75" fill="#fff" stroke="#000" stroke-width="1.8"/><rect x="677.1" y="369.6" width="3.9" height="116" rx="1.75" fill="#fff" stroke="#000" stroke-width="1.8"/><path d="M658.5 415.3H663.8M676.2 415.3H681.8" stroke="#000" stroke-width="1.6"/><rect x="659.4" y="541.3" width="3.5" height="157.8" rx="1.75" fill="#fff" stroke="#000" stroke-width="1.8"/><rect x="677.1" y="541.3" width="3.9" height="157.8" rx="1.75" fill="#fff" stroke="#000" stroke-width="1.8"/><path d="M658.5 630H663.8M676.2 630H681.8" stroke="#000" stroke-width="1.6"/><rect x="659.4" y="801.2" width="3.5" height="67.4" rx="1.75" fill="#fff" stroke="#000" stroke-width="1.8"/><rect x="677.1" y="801.2" width="3.9" height="67.4" rx="1.75" fill="#fff" stroke="#000" stroke-width="1.8"/><path d="M662.9 101.3H677.1M662.9 165.6H677.1M662.9 229.8H677.1M662.9 235.5H677.1M662.9 321.2H677.1M662.9 371.9H677.1M662.9 419.1H677.1M662.9 482.6H677.1M662.9 544.3H677.1M662.9 630H677.1M662.9 697H677.1M662.9 803.5H677.1M662.9 866.5H677.1" stroke="#000" stroke-width="1.7"/><rect x="656.1" y="128.7" width="2.6" height="9" fill="#888" stroke="#000" stroke-width="1.1"/><rect x="656.1" y="193.1" width="2.6" height="9" fill="#888" stroke="#000" stroke-width="1.1"/><rect x="656.1" y="273.5" width="2.6" height="9" fill="#888" stroke="#000" stroke-width="1.1"/><rect x="656.1" y="399.5" width="2.6" height="9" fill="#888" stroke="#000" stroke-width="1.1"/><rect x="656.1" y="582.5" width="2.6" height="9" fill="#888" stroke="#000" stroke-width="1.1"/><rect x="656.1" y="830.9" width="2.6" height="9" fill="#888" stroke="#000" stroke-width="1.1"/><path d="M680.9 128h1.2a1.3 1.3 0 0 1 1.3 1.3v8a1.3 1.3 0 0 1 -1.3 1.3h-1.2z" fill="#000"/><path d="M680.9 192.3h1.2a1.3 1.3 0 0 1 1.3 1.3v8a1.3 1.3 0 0 1 -1.3 1.3h-1.2z" fill="#000"/><path d="M680.9 272.7h1.2a1.3 1.3 0 0 1 1.3 1.3v8a1.3 1.3 0 0 1 -1.3 1.3h-1.2z" fill="#000"/><path d="M680.9 398.9h1.2a1.3 1.3 0 0 1 1.3 1.3v8a1.3 1.3 0 0 1 -1.3 1.3h-1.2z" fill="#000"/><path d="M680.9 445.9h1.2a1.3 1.3 0 0 1 1.3 1.3v8a1.3 1.3 0 0 1 -1.3 1.3h-1.2z" fill="#000"/><path d="M680.9 581.7h1.2a1.3 1.3 0 0 1 1.3 1.3v8a1.3 1.3 0 0 1 -1.3 1.3h-1.2z" fill="#000"/><path d="M680.9 659.5h1.2a1.3 1.3 0 0 1 1.3 1.3v8a1.3 1.3 0 0 1 -1.3 1.3h-1.2z" fill="#000"/><path d="M680.9 830.1h1.2a1.3 1.3 0 0 1 1.3 1.3v8a1.3 1.3 0 0 1 -1.3 1.3h-1.2z" fill="#000"/><path d="M658.8 448.1H650.4A3.1 3.1 0 0 0 650.4 454.3H658.8" fill="#fff" stroke="#000" stroke-width="1.8"/><path d="M658.8 661.7H650.4A3.1 3.1 0 0 0 650.4 667.9H658.8" fill="#fff" stroke="#000" stroke-width="1.8"/><rect x="665.1" y="326.6" width="4.3" height="51" rx="2.1" fill="#fff" stroke="#000" stroke-width="1.8"/><rect x="665.1" y="487.4" width="4.3" height="48.7" rx="2.1" fill="#fff" stroke="#000" stroke-width="1.8"/><rect x="665.1" y="700.9" width="4.3" height="99.2" rx="2.1" fill="#fff" stroke="#000" stroke-width="1.8"/><path d="M665 762.3H669.5" stroke="#000" stroke-width="1.5"/><path d="M639.5 876V873.6H662.5V876" fill="#fff" stroke="#000" stroke-width="1.6"/><rect x="616" y="889" width="130.6" height="4.2" fill="#333" stroke="#000" stroke-width="1"/><rect x="611.6" y="876.8" width="140" height="13.6" fill="#fff" stroke="#000" stroke-width="2"/><path d="M644.5 67.5H771.5M644.5 59V76M683.8 59V76M805.8 93.5V895M797 93.5H815M797 895H814.5M433.8 160.4V349M425 160.4H442.5M425 232.4H442.5M240 328V496M231 328H248.5M231 380H248.5M429 541.3V750M420.8 541.3H438.4M420.8 633.8H438.4M205.7 789V896M197.3 876.7H214.2M197.3 895.8H214.2M389.4 850.4H555.6M389.4 842V859.5M555.6 842V859.5M611 922.2H751.5M611 914V930.5M751.5 914V930.5" stroke="#555" stroke-width="1.3" fill="none"/><g font-family="Liberation Sans, sans-serif" fill="#000" stroke="#000" stroke-width="0.3" opacity="0.999"><text x="689.6" y="59.2" textLength="79.6" lengthAdjust="spacingAndGlyphs" font-size="29.6">77 мм</text><text x="414.8" y="842" textLength="112.2" lengthAdjust="spacingAndGlyphs" font-size="29.6">2000 мм</text><text x="620.8" y="949.3" textLength="118" lengthAdjust="spacingAndGlyphs" font-size="29.6">Ø300 мм</text><text x="460.1" y="354.6" textLength="117.5" lengthAdjust="spacingAndGlyphs" font-size="29.6" transform="rotate(-90 460.1 354.6)">Ø150 мм</text><text x="231.2" y="502" textLength="117.5" lengthAdjust="spacingAndGlyphs" font-size="29.6" transform="rotate(-90 231.2 502)">Ø112 мм</text><text x="455" y="755.3" textLength="115.5" lengthAdjust="spacingAndGlyphs" font-size="29.6" transform="rotate(-90 455 755.3)">Ø200 мм</text><text x="197.3" y="871.2" textLength="80.8" lengthAdjust="spacingAndGlyphs" font-size="29.6" transform="rotate(-90 197.3 871.2)">30 мм</text><text x="832.5" y="530.2" textLength="112.8" lengthAdjust="spacingAndGlyphs" font-size="29.6" transform="rotate(-90 832.5 530.2)">1695 мм</text></g></svg></body></html>
